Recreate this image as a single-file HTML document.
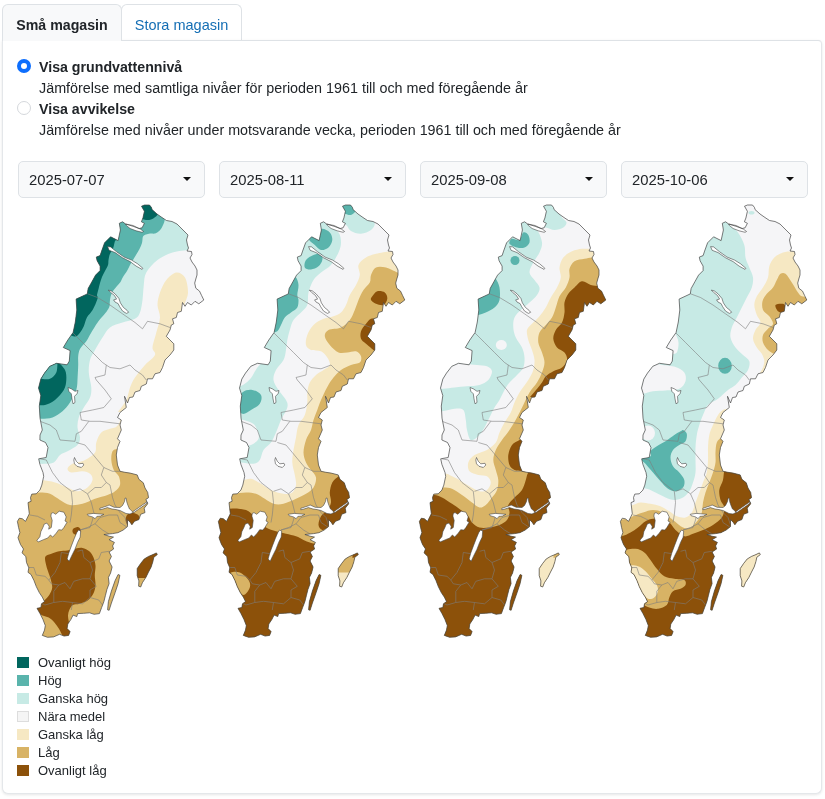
<!DOCTYPE html>
<html lang="sv"><head><meta charset="utf-8"><title>Grundvattennivåer</title>
<style>
*{box-sizing:border-box}
html,body{margin:0;padding:0;background:#fff}
body{width:825px;height:799px;position:relative;overflow:hidden;font-family:"Liberation Sans",sans-serif;color:#212529;font-size:14px}
.tab{position:absolute;top:4px;height:37px;border:1px solid #dee2e6;border-bottom:none;border-radius:6px 6px 0 0;font-size:14.2px;line-height:41px;text-align:center}
.t1{left:2px;width:120px;background:#f8f9fa;font-weight:700;color:#212529;z-index:2}
.t2{left:121px;width:121px;background:#fff;color:#146eb4;font-size:14.5px}
.panel{position:absolute;left:2px;top:40px;width:820px;height:754px;border:1px solid #e4e7ea;border-top-color:#dee2e6;border-radius:0 4px 6px 6px;background:#fff;box-shadow:0 1px 3px rgba(0,0,0,.10)}
.radio{position:absolute;left:17px;width:14px;height:14px;border-radius:50%}
.r1{top:59px;border:4px solid #0d6efd;background:#fff}
.r2{top:101px;border:1px solid #d5d8dc;background:#fff}
.lbl{position:absolute;left:39px;font-size:14.35px;white-space:nowrap;line-height:16px}
.b{font-weight:700;font-size:14.2px}
.sel{position:absolute;top:161px;width:187px;height:37px;border:1px solid #dee2e6;border-radius:5px;background:#f8f9fa;font-size:14.8px;line-height:37px;padding-left:10px}
.sel i{position:absolute;right:13px;top:15px;width:0;height:0;border-left:4px solid transparent;border-right:4px solid transparent;border-top:4px solid #111}
.lg{position:absolute;left:17px;width:12px;height:11px}
.lt{position:absolute;left:38px;font-size:13px;line-height:14px;white-space:nowrap}
svg{position:absolute;left:0;top:0}
</style></head><body>
<div class="tab t1">Små magasin</div>
<div class="tab t2">Stora magasin</div>
<div class="panel"></div>
<div class="radio r1"></div><div class="lbl b" style="top:59px">Visa grundvattennivå</div>
<div class="lbl" style="top:80px">Jämförelse med samtliga nivåer för perioden 1961 till och med föregående år</div>
<div class="radio r2"></div><div class="lbl b" style="top:101px">Visa avvikelse</div>
<div class="lbl" style="top:122px;font-size:14.3px">Jämförelse med nivåer under motsvarande vecka, perioden 1961 till och med föregående år</div>
<div class="sel" style="left:18px">2025-07-07<i></i></div>
<div class="sel" style="left:219px">2025-08-11<i></i></div>
<div class="sel" style="left:420px">2025-09-08<i></i></div>
<div class="sel" style="left:621px">2025-10-06<i></i></div>
<!--MAPS-->
<svg width="825" height="799" viewBox="0 0 825 799">
<defs><clipPath id="se"><path d="M141.5 206.2L144.5 205.0L149.5 205.0L151.5 207.5L152.0 209.5L157.0 214.0L162.0 217.5L166.5 220.5L172.0 221.5L177.0 224.0L181.0 228.0L185.0 232.0L188.0 235.0L186.5 240.0L187.5 245.0L188.5 248.0L187.0 251.0L191.5 251.5L192.0 254.5L190.0 258.0L192.0 262.0L195.0 266.0L197.0 270.0L197.0 275.0L195.8 279.0L194.7 283.1L195.8 288.2L199.5 291.1L201.6 295.5L203.8 300.0L198.8 303.8L195.0 301.3L191.3 305.0L187.5 302.5L185.0 306.3L182.5 302.5L181.3 311.3L177.5 312.5L176.3 317.5L172.5 318.8L173.8 323.8L171.3 325.0L170.0 330.0L166.3 336.3L170.0 340.0L173.8 343.8L173.8 350.0L170.0 355.0L165.0 360.0L162.5 367.5L160.0 372.5L155.0 373.8L152.5 378.8L147.5 378.8L146.3 384.0L141.3 386.3L140.0 390.5L135.0 392.0L133.0 397.0L129.5 397.5L127.5 403.0L124.5 396.3L126.3 407.5L120.0 412.5L117.5 417.5L121.3 420.0L120.0 425.0L121.3 430.0L117.5 438.8L120.0 441.3L117.5 447.5L116.3 455.0L117.5 465.0L120.0 471.3L124.9 472.3L130.1 473.1L137.2 474.9L138.9 479.3L143.3 482.8L145.0 488.0L147.7 492.4L148.5 497.7L145.9 499.4L147.7 503.8L144.2 508.2L145.0 512.6L140.7 514.3L138.9 519.6L134.5 521.3L131.9 524.8L130.1 522.2L127.5 519.6L127.5 526.6L123.1 530.1L117.9 532.7L112.6 533.6L103.9 534.5L109.1 536.2L113.5 537.1L109.1 539.7L114.4 542.4L112.6 545.9L113.6 549.0L109.1 552.0L111.4 556.5L109.1 561.0L112.1 567.0L110.6 573.0L108.4 577.5L109.1 583.6L106.9 589.6L105.4 595.6L103.9 601.6L101.6 607.6L99.4 613.6L94.1 614.3L89.6 612.8L83.6 613.3L77.6 613.6L76.8 616.6L73.1 615.1L70.8 619.6L67.8 624.1L67.1 628.6L70.1 631.6L68.6 635.4L64.1 636.1L59.6 634.3L53.6 636.9L47.5 637.3L42.3 635.4L44.5 630.1L45.3 625.6L43.0 619.6L40.0 613.6L37.0 608.3L40.8 607.6L41.5 603.8L44.5 601.6L42.3 597.1L39.3 592.6L36.3 586.6L34.0 580.6L31.0 574.5L28.0 572.3L28.8 567.8L26.5 562.5L25.8 556.5L22.0 552.8L23.5 549.0L20.5 544.5L18.8 540.0L18.0 537.6L19.9 532.6L18.6 527.6L17.4 521.4L19.3 518.2L22.4 518.8L25.5 521.4L29.3 513.8L28.0 502.6L31.1 501.3L30.5 497.6L31.8 494.1L36.2 493.8L39.9 490.1L41.8 485.1L43.7 476.3L43.0 472.5L39.9 464.4L38.7 458.8L46.2 457.5L48.0 447.5L45.5 442.5L39.9 440.0L40.0 435.0L42.3 430.0L40.0 418.1L39.3 406.1L40.8 395.6L38.5 388.1L40.8 379.1L44.5 373.1L49.8 366.3L56.5 363.3L67.1 364.8L69.3 361.1L70.1 350.6L63.3 347.5L67.8 340.0L73.1 332.5L75.3 322.0L76.8 310.0L76.1 299.1L87.3 293.9L88.1 288.6L91.8 281.9L95.6 275.1L100.1 270.6L100.1 266.1L97.1 260.8L96.3 257.1L100.1 255.6L101.6 251.1L104.6 242.8L110.6 236.8L118.1 240.6L120.4 230.0L119.3 223.3L122.6 221.8L125.6 224.0L133.1 226.3L139.1 228.5L142.1 227.8L144.4 223.3L141.4 221.8L142.9 218.0L144.4 211.3ZM118.1 574.5L119.9 575.3L118.1 583.6L115.1 592.6L111.4 603.1L109.1 610.3L107.6 609.8L108.4 601.6L111.4 591.1L115.1 580.6ZM137.2 568.6L140.7 563.4L144.2 559.0L148.5 556.4L152.9 554.6L156.4 552.9L157.3 554.6L153.8 557.3L152.9 561.6L151.2 566.9L148.5 572.1L145.9 577.4L142.4 582.7L140.7 587.0L138.6 586.2L138.9 580.9L137.2 575.6Z"/></clipPath></defs>
<g transform="translate(0 0)">
<g clip-path="url(#se)">
<rect x="10" y="200" width="200" height="445" fill="#f5f5f7"/>
<path fill="#c7eae5" d="M188.8 250.0C186.1 250.4 177.7 250.8 172.5 252.5C167.3 254.2 161.9 256.7 157.5 260.0C153.1 263.3 148.6 268.3 146.3 272.5C144.0 276.7 144.4 280.4 143.8 285.0C143.2 289.6 143.1 295.4 142.5 300.0C141.9 304.6 141.2 309.4 140.0 312.5C138.8 315.6 137.9 317.1 135.0 318.8C132.1 320.5 126.7 321.1 122.5 322.5C118.3 323.9 113.3 325.0 110.0 327.5C106.7 330.0 105.0 333.8 102.5 337.5C100.0 341.2 97.1 346.2 95.0 350.0C92.9 353.8 91.0 356.2 90.0 360.0C89.0 363.8 88.6 367.9 88.8 372.5C89.0 377.1 91.1 383.3 91.3 387.5C91.5 391.7 91.2 394.2 90.0 397.5C88.8 400.8 85.7 404.2 83.8 407.5C81.9 410.8 79.8 414.2 78.8 417.5C77.8 420.8 77.3 424.2 77.5 427.5C77.7 430.8 80.0 434.6 80.0 437.5C80.0 440.4 79.6 442.7 77.5 445.0C75.4 447.3 70.4 449.6 67.5 451.3C64.6 453.0 62.3 453.1 60.0 455.0C57.7 456.9 56.3 461.0 53.8 462.5C51.3 464.0 47.5 463.6 45.0 463.8C42.5 464.0 39.8 463.8 38.8 463.8L10.0 464.0L10.0 195.0L210.0 195.0L210.0 250.0Z"/>
<path fill="#5ab4ac" d="M165.0 210.0C164.9 211.8 165.1 217.7 164.6 220.5C164.1 223.3 163.0 225.2 162.1 227.0C161.2 228.8 160.3 229.9 159.1 231.0C157.9 232.1 156.6 233.1 155.1 233.5C153.6 233.9 151.5 233.3 150.0 233.5C148.5 233.7 147.2 234.0 146.0 234.5C144.8 235.0 143.7 235.1 143.0 236.5C142.3 237.9 142.6 240.9 142.0 243.0C141.4 245.1 140.5 247.0 139.5 249.0C138.5 251.0 137.1 253.2 136.0 255.0C134.9 256.8 134.0 258.3 133.0 260.0C132.0 261.7 131.0 263.2 130.0 265.0C129.0 266.8 128.2 269.0 127.0 271.0C125.8 273.0 124.1 275.2 123.0 277.0C121.9 278.8 121.5 280.5 120.5 282.0C119.5 283.5 118.2 284.5 117.0 286.0C115.8 287.5 114.1 289.2 113.0 291.0C111.9 292.8 111.0 295.2 110.5 297.0C110.0 298.8 110.0 300.4 109.8 302.0C109.6 303.6 110.0 304.8 109.5 306.3C109.0 307.8 108.0 309.6 107.0 311.0C106.0 312.4 105.4 313.1 103.8 315.0C102.2 316.9 99.7 319.6 97.6 322.5C95.5 325.4 93.2 329.5 91.3 332.6C89.4 335.7 88.2 338.6 86.3 341.3C84.4 344.0 81.4 346.3 80.1 348.8C78.8 351.3 78.5 353.6 78.2 356.3C77.9 359.0 78.3 361.6 78.2 365.1C78.1 368.7 77.9 373.5 77.6 377.6C77.3 381.8 77.6 385.9 76.3 390.0C75.0 394.1 72.3 398.9 70.0 402.5C67.7 406.1 65.4 408.8 62.5 411.3C59.6 413.8 56.0 416.2 52.5 417.5C49.0 418.8 45.0 418.6 41.3 418.8C37.5 419.1 31.9 419.0 30.0 419.0L10.0 419.0L10.0 195.0L165.0 195.0Z"/>
<path fill="#01665e" d="M138.0 219.0C138.7 219.0 140.7 218.8 142.0 219.0C143.3 219.2 144.5 219.9 146.0 220.0C147.5 220.1 149.3 220.1 151.0 219.5C152.7 218.9 154.7 217.6 156.0 216.5C157.3 215.4 158.5 213.6 159.0 213.0L165.0 200.0L130.0 200.0Z"/>
<path fill="#01665e" d="M116.3 240.3C116.1 240.4 115.5 239.9 115.0 241.0C114.5 242.1 114.1 245.3 113.5 247.0C112.9 248.7 112.2 249.7 111.5 251.0C110.8 252.3 110.0 253.5 109.5 255.0C109.0 256.5 108.8 258.3 108.5 260.0C108.2 261.7 108.6 263.2 108.0 265.0C107.4 266.8 106.0 269.0 105.0 271.0C104.0 273.0 102.8 275.0 102.0 277.0C101.2 279.0 100.6 281.0 100.0 283.0C99.4 285.0 99.0 287.0 98.5 289.0C98.0 291.0 97.2 293.4 97.0 295.0C96.8 296.6 98.2 296.3 97.5 298.8C96.8 301.3 94.4 306.9 92.6 310.0C90.8 313.1 88.4 314.8 86.9 317.5C85.4 320.2 84.9 323.8 83.8 326.3C82.7 328.8 81.3 330.9 80.1 332.6C78.8 334.3 77.7 335.8 76.3 336.3C74.9 336.8 72.6 335.8 71.9 335.7L60.0 331.0L60.0 230.0L116.0 230.0Z"/>
<path fill="#01665e" d="M58.0 362.0C59.2 363.3 63.6 367.0 65.0 370.0C66.4 373.0 66.5 376.7 66.3 380.0C66.1 383.3 65.7 386.7 63.8 390.0C61.9 393.3 58.1 397.5 55.0 400.0C51.9 402.5 47.8 404.2 45.0 405.0C42.2 405.8 39.2 405.0 38.0 405.0L30.0 405.0L30.0 362.0Z"/>
<path fill="#5ab4ac" d="M40.0 378.8C41.7 378.8 47.3 379.9 50.0 378.8C52.7 377.8 55.0 375.1 56.3 372.5C57.5 369.9 57.3 364.6 57.5 363.0L30.0 363.0L30.0 379.0Z"/>
<path fill="#f6e8c3" d="M184.5 304.0C185.1 302.1 187.9 296.9 188.0 292.5C188.1 288.1 186.9 280.8 185.0 277.5C183.1 274.2 179.4 272.1 176.3 272.5C173.2 272.9 169.0 276.7 166.3 280.0C163.6 283.3 161.5 288.3 160.0 292.5C158.5 296.7 157.5 300.8 157.5 305.0C157.5 309.2 160.2 312.9 160.0 317.5C159.8 322.1 157.6 327.5 156.3 332.5C155.1 337.5 152.7 343.8 152.5 347.5C152.3 351.2 156.2 352.1 155.0 355.0C153.8 357.9 148.3 361.2 145.0 365.0C141.7 368.8 137.5 373.8 135.0 377.5C132.5 381.2 131.4 383.8 130.0 387.5C128.6 391.2 128.3 395.9 126.3 400.0C124.3 404.1 119.4 410.0 118.0 412.0L140.0 412.0L150.0 392.0L172.0 370.0L182.0 350.0L180.0 335.0L190.0 315.0Z"/>
<path fill="#f6e8c3" d="M125.0 408.0C123.8 410.8 120.5 421.5 118.0 425.0C115.5 428.5 112.8 427.6 110.0 428.8C107.2 430.1 103.6 430.2 101.3 432.5C99.0 434.8 97.3 439.2 96.3 442.5C95.2 445.8 96.9 449.6 95.0 452.5C93.1 455.4 88.8 458.1 85.0 460.0C81.2 461.9 75.4 462.3 72.5 463.8C69.6 465.3 67.7 467.4 67.5 468.8C67.3 470.2 68.8 472.1 71.3 472.5C73.8 472.9 79.4 471.1 82.5 471.3C85.6 471.5 88.3 472.4 90.0 473.8C91.7 475.2 92.9 477.7 92.5 480.0C92.1 482.3 90.0 485.6 87.5 487.5C85.0 489.4 80.8 491.3 77.5 491.3C74.2 491.3 71.2 489.0 67.5 487.5C63.8 486.0 59.2 483.8 55.0 482.5C50.8 481.2 45.8 480.4 42.5 480.0C39.2 479.6 36.2 480.0 35.0 480.0L10.0 480.0L10.0 520.0L160.0 520.0L160.0 408.0Z"/>
<path fill="#d8b365" d="M25.0 494.0C26.1 494.0 28.8 494.1 31.3 493.8C33.8 493.6 36.9 492.5 40.0 492.5C43.1 492.5 46.7 492.6 50.0 493.8C53.3 495.1 56.7 498.1 60.0 500.0C63.3 501.9 66.2 504.4 70.0 505.0C73.8 505.6 78.3 504.8 82.5 503.8C86.7 502.8 90.8 500.3 95.0 498.8C99.2 497.3 104.2 496.2 107.5 495.0C110.8 493.8 112.9 493.0 115.0 491.3C117.1 489.6 119.4 487.5 120.0 485.0C120.6 482.5 119.8 478.8 118.8 476.3C117.8 473.8 115.0 472.7 113.8 470.0C112.5 467.3 111.5 463.1 111.3 460.0C111.1 456.9 111.5 453.2 112.5 451.3C113.5 449.4 115.4 449.4 117.5 448.8C119.6 448.2 123.8 448.1 125.0 448.0L170.0 448.0L170.0 645.0L10.0 645.0L10.0 494.0Z"/>
<path fill="#8c510a" d="M45.3 556.8C46.1 555.1 48.5 555.0 50.8 554.1C53.1 553.2 56.4 551.9 59.1 551.3C61.9 550.7 64.5 551.0 67.3 550.6C70.0 550.2 73.1 549.1 75.6 548.6C78.1 548.1 80.2 547.5 82.5 547.9C84.8 548.3 87.5 549.7 89.3 551.3C91.1 552.9 92.5 555.1 93.5 557.5C94.5 559.9 95.3 562.8 95.5 565.8C95.7 568.8 94.8 572.2 94.8 575.4C94.8 578.6 95.7 582.1 95.5 585.1C95.3 588.1 94.8 590.8 93.5 593.3C92.2 595.8 90.3 598.5 88.0 600.2C85.7 601.9 82.2 602.9 79.7 603.7C77.2 604.5 74.5 604.0 72.8 605.0C71.1 606.0 70.2 608.1 69.4 609.8C68.6 611.5 68.1 613.5 68.0 615.4C67.9 617.2 68.4 619.1 68.7 620.9C69.0 622.7 69.5 624.6 70.1 626.4C70.6 628.2 72.3 630.0 72.0 631.9C71.7 633.8 69.5 637.2 68.0 638.0C66.5 638.8 64.7 638.0 63.2 636.5C61.7 635.0 60.6 631.5 59.1 629.1C57.6 626.7 55.9 624.2 54.2 622.2C52.5 620.2 50.7 618.5 48.7 617.4C46.8 616.3 44.6 616.5 42.5 615.4C40.4 614.3 37.2 612.3 36.0 611.0C34.8 609.7 34.1 608.6 35.0 607.8C35.9 607.0 40.3 607.2 41.2 606.4C42.1 605.6 39.9 604.0 40.5 603.0C41.1 602.0 43.1 601.6 44.6 600.2C46.1 598.8 48.1 596.8 49.4 594.7C50.7 592.6 52.0 590.3 52.2 587.8C52.4 585.3 51.5 582.4 50.8 579.6C50.1 576.9 48.8 573.8 48.0 571.3C47.2 568.8 46.5 566.8 46.0 564.4C45.5 562.0 44.5 558.5 45.3 556.8Z"/>
<path fill="#8c510a" d="M127.0 515.0C128.2 513.5 131.0 512.8 133.0 513.0C135.0 513.2 138.2 514.3 139.0 516.0C139.8 517.7 139.3 521.0 138.0 523.0C136.7 525.0 133.0 528.2 131.0 528.0C129.0 527.8 126.7 524.2 126.0 522.0C125.3 519.8 125.8 516.5 127.0 515.0Z"/>
<path fill="#8c510a" d="M73.0 529.0C73.8 528.0 76.7 526.7 78.0 527.0C79.3 527.3 81.2 529.7 81.0 531.0C80.8 532.3 78.3 534.7 77.0 535.0C75.7 535.3 73.7 534.0 73.0 533.0C72.3 532.0 72.2 530.0 73.0 529.0Z"/>
<path fill="#8c510a" d="M130.0 545.0L160.0 545.0L160.0 578.0L130.0 578.0Z"/>
<path fill="none" stroke="#7d7d7d" stroke-width=".6" d="M87.5 293.8L97.5 297.5L110.0 305.0L122.5 313.8L135.0 322.5L142.5 328.8L147.5 321.3L160.0 323.8L170.0 327.5M72.5 332.5L82.5 342.5L92.5 352.5L102.5 362.5L110.0 367.5L120.0 368.8L130.0 365.0L135.0 370.0L142.5 375.0L146.3 380.0M106.3 365.0L105.0 375.0L95.0 377.5L96.3 380.0L105.0 390.0L111.3 398.8L103.8 407.5L92.5 410.0L80.0 412.5L81.3 420.0L90.0 421.3L100.0 421.3L120.0 423.8M40.0 421.3L50.0 425.0L56.3 430.0L60.0 440.0L75.0 441.3L76.3 433.8L81.3 431.3L88.8 421.3M40.0 458.8L46.3 460.0L52.5 472.5L60.0 482.5L71.3 491.3L72.5 502.5L71.3 515.0L70.0 522.5M76.3 442.5L85.0 445.0L91.3 452.5L97.5 460.0L103.8 467.5L101.3 475.0L106.3 482.5L110.0 485.0M103.8 467.5L112.5 471.3L120.0 471.3M72.5 491.3L80.0 488.8L87.5 493.8L95.0 487.5L101.3 487.5L106.3 482.5M87.5 493.8L91.3 502.5L93.8 512.5L92.5 520.0L90.0 527.5L80.0 530.0M110.0 485.0L112.5 497.5L115.0 505.0L120.0 512.5L125.0 517.5L127.5 525.0M30.0 515.0L37.5 516.3L45.0 520.0M70.0 553.8L61.3 552.5L60.0 562.5L55.0 572.5L48.8 580.0L45.0 576.3L36.3 575.0L33.8 567.5L27.5 567.5M48.8 580.0L51.3 583.8L58.8 585.0L53.8 591.3L53.8 602.5L45.0 605.0L40.0 602.5M53.8 602.5L62.5 601.3L72.5 602.5L71.3 610.0M72.5 602.5L82.5 603.8L90.0 597.5L98.8 600.0L102.5 605.0M58.8 585.0L65.0 582.5L70.0 588.8L73.8 581.3L82.5 578.8L90.0 578.8L96.3 586.3L90.0 590.0L90.0 597.5M77.5 551.3L82.5 550.0L83.8 557.5L90.0 562.5L92.5 570.0L90.0 578.8M90.0 562.5L98.8 558.8L101.3 552.5L108.8 551.3L112.5 555.0M80.0 530.0L87.5 527.5L95.0 523.8L102.5 530.0L108.8 533.8M95.0 523.8L100.0 517.5L108.8 515.0L117.5 515.0L120.0 522.5L127.5 527.5"/>
</g>
<path fill="#fff" stroke="#444" stroke-width=".6" d="M51.3 513.4L53.0 512.6L55.7 514.3L59.2 511.2L63.9 512.2L66.2 516.9L65.0 521.0L67.1 522.2L63.9 527.5L61.8 530.1L58.7 529.7L56.2 533.2L52.7 537.1L50.4 535.0L47.8 538.0L43.4 539.7L38.2 542.0L36.9 540.3L39.9 536.7L40.8 531.8L42.9 527.5L44.3 524.0L46.9 523.1L49.2 526.2L48.7 529.2L51.3 527.5L52.2 520.5L50.9 516.1ZM78.5 530.1L80.7 531.0L80.2 537.1L77.6 542.4L74.9 549.4L71.4 556.4L69.2 561.3L67.1 559.0L68.8 552.9L71.4 545.9L74.1 538.9L76.7 532.7ZM125.6 224.0L133.1 225.5L140.6 229.3L143.6 231.5L142.1 232.3L136.1 230.8L130.1 228.5L126.4 225.5ZM107.6 246.6L110.6 246.9L116.6 251.8L124.1 257.1L131.6 260.1L137.6 263.8L142.9 268.3L142.1 269.4L136.1 266.1L130.1 261.6L122.6 257.8L115.1 252.6L109.1 250.3ZM108.3 290.1L111.3 290.9L115.1 293.9L118.9 298.4L120.4 302.9L123.4 307.4L127.1 310.4L128.6 312.3L126.4 313.4L122.6 311.1L119.6 306.6L118.1 303.6L115.1 302.1L113.6 299.9L116.6 299.1L114.4 295.4L110.6 292.4ZM68.0 387.5L71.3 388.8L75.0 391.3L78.0 390.5L77.0 393.8L74.5 396.3L75.0 402.5L73.0 403.8L72.0 398.8L71.3 393.8L68.8 391.3ZM74.5 457.5L76.3 461.3L78.8 463.8L83.0 463.3L83.8 465.0L81.3 467.5L77.0 466.3L74.5 463.8L73.8 460.0ZM87.2 514.3L93.3 513.4L103.9 514.3L100.4 516.1L96.9 516.4L95.1 518.7L92.5 516.9L88.1 515.7ZM99.8 508.3L107.4 505.8L109.1 505.0L114.2 507.3L120.0 507.5L122.5 505.5L124.5 501.5L125.2 498.0L126.2 498.2L126.8 502.0L128.0 505.5L129.5 509.0L131.5 510.5L133.0 512.5L130.0 514.0L126.0 513.5L123.0 512.0L120.0 510.5L116.0 509.6L112.0 509.0L107.4 507.6L103.0 509.0L99.8 509.8ZM133.0 511.5L138.0 508.0L143.0 504.5L147.0 501.8L147.5 502.8L143.5 505.8L138.5 509.3L133.5 512.8Z"/>
<path fill="none" stroke="#444" stroke-width=".7" stroke-linejoin="round" d="M141.5 206.2L144.5 205.0L149.5 205.0L151.5 207.5L152.0 209.5L157.0 214.0L162.0 217.5L166.5 220.5L172.0 221.5L177.0 224.0L181.0 228.0L185.0 232.0L188.0 235.0L186.5 240.0L187.5 245.0L188.5 248.0L187.0 251.0L191.5 251.5L192.0 254.5L190.0 258.0L192.0 262.0L195.0 266.0L197.0 270.0L197.0 275.0L195.8 279.0L194.7 283.1L195.8 288.2L199.5 291.1L201.6 295.5L203.8 300.0L198.8 303.8L195.0 301.3L191.3 305.0L187.5 302.5L185.0 306.3L182.5 302.5L181.3 311.3L177.5 312.5L176.3 317.5L172.5 318.8L173.8 323.8L171.3 325.0L170.0 330.0L166.3 336.3L170.0 340.0L173.8 343.8L173.8 350.0L170.0 355.0L165.0 360.0L162.5 367.5L160.0 372.5L155.0 373.8L152.5 378.8L147.5 378.8L146.3 384.0L141.3 386.3L140.0 390.5L135.0 392.0L133.0 397.0L129.5 397.5L127.5 403.0L124.5 396.3L126.3 407.5L120.0 412.5L117.5 417.5L121.3 420.0L120.0 425.0L121.3 430.0L117.5 438.8L120.0 441.3L117.5 447.5L116.3 455.0L117.5 465.0L120.0 471.3L124.9 472.3L130.1 473.1L137.2 474.9L138.9 479.3L143.3 482.8L145.0 488.0L147.7 492.4L148.5 497.7L145.9 499.4L147.7 503.8L144.2 508.2L145.0 512.6L140.7 514.3L138.9 519.6L134.5 521.3L131.9 524.8L130.1 522.2L127.5 519.6L127.5 526.6L123.1 530.1L117.9 532.7L112.6 533.6L103.9 534.5L109.1 536.2L113.5 537.1L109.1 539.7L114.4 542.4L112.6 545.9L113.6 549.0L109.1 552.0L111.4 556.5L109.1 561.0L112.1 567.0L110.6 573.0L108.4 577.5L109.1 583.6L106.9 589.6L105.4 595.6L103.9 601.6L101.6 607.6L99.4 613.6L94.1 614.3L89.6 612.8L83.6 613.3L77.6 613.6L76.8 616.6L73.1 615.1L70.8 619.6L67.8 624.1L67.1 628.6L70.1 631.6L68.6 635.4L64.1 636.1L59.6 634.3L53.6 636.9L47.5 637.3L42.3 635.4L44.5 630.1L45.3 625.6L43.0 619.6L40.0 613.6L37.0 608.3L40.8 607.6L41.5 603.8L44.5 601.6L42.3 597.1L39.3 592.6L36.3 586.6L34.0 580.6L31.0 574.5L28.0 572.3L28.8 567.8L26.5 562.5L25.8 556.5L22.0 552.8L23.5 549.0L20.5 544.5L18.8 540.0L18.0 537.6L19.9 532.6L18.6 527.6L17.4 521.4L19.3 518.2L22.4 518.8L25.5 521.4L29.3 513.8L28.0 502.6L31.1 501.3L30.5 497.6L31.8 494.1L36.2 493.8L39.9 490.1L41.8 485.1L43.7 476.3L43.0 472.5L39.9 464.4L38.7 458.8L46.2 457.5L48.0 447.5L45.5 442.5L39.9 440.0L40.0 435.0L42.3 430.0L40.0 418.1L39.3 406.1L40.8 395.6L38.5 388.1L40.8 379.1L44.5 373.1L49.8 366.3L56.5 363.3L67.1 364.8L69.3 361.1L70.1 350.6L63.3 347.5L67.8 340.0L73.1 332.5L75.3 322.0L76.8 310.0L76.1 299.1L87.3 293.9L88.1 288.6L91.8 281.9L95.6 275.1L100.1 270.6L100.1 266.1L97.1 260.8L96.3 257.1L100.1 255.6L101.6 251.1L104.6 242.8L110.6 236.8L118.1 240.6L120.4 230.0L119.3 223.3L122.6 221.8L125.6 224.0L133.1 226.3L139.1 228.5L142.1 227.8L144.4 223.3L141.4 221.8L142.9 218.0L144.4 211.3ZM118.1 574.5L119.9 575.3L118.1 583.6L115.1 592.6L111.4 603.1L109.1 610.3L107.6 609.8L108.4 601.6L111.4 591.1L115.1 580.6ZM137.2 568.6L140.7 563.4L144.2 559.0L148.5 556.4L152.9 554.6L156.4 552.9L157.3 554.6L153.8 557.3L152.9 561.6L151.2 566.9L148.5 572.1L145.9 577.4L142.4 582.7L140.7 587.0L138.6 586.2L138.9 580.9L137.2 575.6Z"/>
</g>
<g transform="translate(201 0)">
<g clip-path="url(#se)">
<rect x="10" y="200" width="200" height="445" fill="#f5f5f7"/>
<path fill="#c7eae5" d="M140.0 226.0C140.8 225.8 143.3 224.2 145.0 225.0C146.7 225.8 147.5 229.5 150.0 231.0C152.5 232.5 156.7 234.0 160.0 233.8C163.3 233.6 167.7 231.7 170.0 230.0C172.3 228.3 173.8 225.8 173.8 223.8C173.8 221.8 170.6 219.0 170.0 218.0L170.0 200.0L135.0 200.0Z"/>
<path fill="#5ab4ac" d="M141.0 213.0C141.5 213.1 142.3 213.5 143.8 213.8C145.3 214.1 148.1 215.5 150.0 215.0C151.9 214.5 153.8 212.3 155.0 211.0C156.2 209.7 156.7 207.7 157.0 207.0L157.0 200.0L138.0 200.0Z"/>
<path fill="#c7eae5" d="M122.0 218.0C122.9 219.2 124.9 222.6 127.5 225.0C130.1 227.4 135.4 229.6 137.5 232.5C139.6 235.4 140.0 239.2 140.0 242.5C140.0 245.8 139.2 248.8 137.5 252.5C135.8 256.2 132.9 261.7 130.0 265.0C127.1 268.3 122.9 270.0 120.0 272.5C117.1 275.0 114.6 276.7 112.5 280.0C110.4 283.3 108.5 288.3 107.5 292.5C106.5 296.7 107.5 301.7 106.3 305.0C105.0 308.3 102.3 310.0 100.0 312.5C97.7 315.0 94.4 317.1 92.5 320.0C90.6 322.9 89.8 326.7 88.8 330.0C87.8 333.3 86.9 336.7 86.3 340.0C85.7 343.3 85.6 346.7 85.0 350.0C84.4 353.3 84.2 356.7 82.5 360.0C80.8 363.3 76.7 366.7 75.0 370.0C73.3 373.3 72.1 376.7 72.5 380.0C72.9 383.3 75.4 386.7 77.5 390.0C79.6 393.3 83.5 397.1 85.0 400.0C86.5 402.9 87.1 404.2 86.3 407.5C85.5 410.8 81.9 415.8 80.0 420.0C78.1 424.2 76.7 428.8 75.0 432.5C73.3 436.2 72.1 439.6 70.0 442.5C67.9 445.4 64.4 447.1 62.5 450.0C60.6 452.9 60.5 457.7 58.8 460.0C57.1 462.3 55.6 463.4 52.5 463.8C49.4 464.2 43.8 462.8 40.0 462.5C36.2 462.2 31.7 462.1 30.0 462.0L10.0 462.0L10.0 215.0Z"/>
<path fill="#f5f5f7" d="M62.0 362.0C61.0 363.0 58.0 365.3 56.0 368.0C54.0 370.7 52.3 375.2 50.0 378.0C47.7 380.8 44.7 383.3 42.0 385.0C39.3 386.7 35.3 387.5 34.0 388.0L30.0 360.0Z"/>
<path fill="#f5f5f7" d="M33.0 421.0C35.8 416.9 46.1 421.0 50.0 422.5C53.9 424.0 55.0 427.3 56.3 430.0C57.5 432.7 58.5 436.3 57.5 438.8C56.5 441.3 52.9 443.6 50.0 445.0C47.1 446.4 42.8 446.7 40.0 447.0C37.2 447.3 34.2 451.3 33.0 447.0C31.8 442.7 30.2 425.1 33.0 421.0Z"/>
<path fill="#5ab4ac" d="M121.3 228.8C123.6 228.9 127.1 230.6 128.8 232.5C130.5 234.4 131.5 237.5 131.3 240.0C131.1 242.5 129.4 245.8 127.5 247.5C125.6 249.2 122.3 250.4 120.0 250.0C117.7 249.6 115.8 246.9 113.8 245.0C111.8 243.1 107.8 241.0 108.0 238.8C108.2 236.6 112.8 233.7 115.0 232.0C117.2 230.3 119.0 228.7 121.3 228.8Z"/>
<path fill="#5ab4ac" d="M105.0 260.0C106.5 257.9 110.0 256.0 112.5 255.0C115.0 254.0 118.5 253.0 120.0 253.8C121.5 254.6 121.7 257.9 121.3 260.0C120.9 262.1 119.4 264.7 117.5 266.3C115.6 267.9 112.3 269.3 110.0 269.5C107.7 269.7 104.6 269.1 103.8 267.5C103.0 265.9 103.5 262.1 105.0 260.0Z"/>
<path fill="#5ab4ac" d="M90.0 277.0C90.8 277.1 93.8 276.2 95.0 277.5C96.2 278.8 97.3 282.1 97.5 285.0C97.7 287.9 96.3 292.5 96.3 295.0C96.3 297.5 97.5 297.9 97.5 300.0C97.5 302.1 97.5 305.4 96.3 307.5C95.0 309.6 92.1 310.8 90.0 312.5C87.9 314.2 85.5 315.4 83.8 317.5C82.1 319.6 81.2 322.7 80.0 325.0C78.8 327.3 78.0 330.0 76.3 331.3C74.6 332.6 71.0 332.7 70.0 333.0L60.0 333.0L60.0 277.0Z"/>
<path fill="#5ab4ac" d="M41.3 392.5C44.2 390.0 48.2 389.6 51.3 390.0C54.4 390.4 58.8 392.7 60.0 395.0C61.2 397.3 60.5 401.3 58.8 403.8C57.1 406.3 52.9 408.3 50.0 410.0C47.1 411.7 44.0 414.6 41.3 413.8C38.6 413.0 34.0 408.6 34.0 405.0C34.0 401.4 38.4 395.0 41.3 392.5Z"/>
<path fill="#f6e8c3" d="M192.0 251.0C191.5 251.1 191.6 250.8 188.8 251.3C186.0 251.8 179.0 252.8 175.0 253.8C171.0 254.8 167.9 255.6 165.0 257.5C162.1 259.4 158.5 262.1 157.5 265.0C156.5 267.9 159.2 271.7 158.8 275.0C158.4 278.3 156.7 281.7 155.0 285.0C153.3 288.3 150.5 291.7 148.8 295.0C147.1 298.3 146.5 302.1 145.0 305.0C143.5 307.9 142.1 310.6 140.0 312.5C137.9 314.4 135.4 315.2 132.5 316.3C129.6 317.4 125.8 317.4 122.5 318.8C119.2 320.2 115.2 322.3 112.5 325.0C109.8 327.7 107.5 331.7 106.3 335.0C105.0 338.3 104.4 342.5 105.0 345.0C105.6 347.5 107.5 348.9 110.0 350.0C112.5 351.1 117.3 350.1 120.0 351.3C122.7 352.6 124.8 355.2 126.3 357.5C127.8 359.8 129.4 362.9 128.8 365.0C128.2 367.1 124.8 368.3 122.5 370.0C120.2 371.7 117.3 372.9 115.0 375.0C112.7 377.1 110.2 379.6 108.8 382.5C107.3 385.4 106.7 389.2 106.3 392.5C105.9 395.8 106.7 398.8 106.3 402.5C105.9 406.2 105.3 411.2 103.8 415.0C102.3 418.8 99.0 421.2 97.5 425.0C96.0 428.8 95.8 433.3 95.0 437.5C94.2 441.7 93.1 445.8 92.5 450.0C91.9 454.2 91.1 458.3 91.3 462.5C91.5 466.7 93.2 471.2 93.8 475.0C94.4 478.8 95.4 482.1 95.0 485.0C94.6 487.9 93.4 491.0 91.3 492.5C89.2 494.0 86.0 494.2 82.5 493.8C79.0 493.4 73.8 491.7 70.0 490.0C66.2 488.3 63.3 485.7 60.0 483.8C56.7 481.9 52.9 479.4 50.0 478.8C47.1 478.2 45.8 479.6 42.5 480.0C39.2 480.4 32.1 480.8 30.0 481.0L10.0 481.0L10.0 645.0L210.0 645.0L210.0 251.0Z"/>
<path fill="#d8b365" d="M200.0 274.0C199.4 273.8 198.8 273.6 196.3 272.5C193.8 271.4 188.6 268.3 185.0 267.5C181.4 266.7 177.5 266.2 175.0 267.5C172.5 268.8 171.0 272.5 170.0 275.0C169.0 277.5 170.1 280.0 168.8 282.5C167.6 285.0 164.4 287.1 162.5 290.0C160.6 292.9 158.9 296.7 157.5 300.0C156.1 303.3 155.2 306.7 153.8 310.0C152.4 313.3 151.1 317.1 148.8 320.0C146.5 322.9 143.6 325.8 140.0 327.5C136.4 329.2 130.2 328.5 127.5 330.0C124.8 331.5 123.6 333.8 123.8 336.3C124.0 338.8 126.5 342.3 128.8 345.0C131.1 347.7 134.6 351.2 137.5 352.5C140.4 353.8 143.4 352.7 146.3 352.5C149.2 352.3 152.7 350.7 155.0 351.3C157.3 351.9 159.4 354.4 160.0 356.3C160.6 358.2 160.5 361.1 158.8 362.5C157.1 363.9 153.1 363.8 150.0 365.0C146.9 366.2 142.9 367.9 140.0 370.0C137.1 372.1 134.8 374.7 132.5 377.5C130.2 380.3 128.4 383.2 126.3 387.0C124.2 390.8 121.7 396.2 120.0 400.0C118.3 403.8 117.5 406.7 116.3 410.0C115.0 413.3 113.5 416.7 112.5 420.0C111.5 423.3 111.2 426.7 110.0 430.0C108.8 433.3 106.2 436.2 105.0 440.0C103.8 443.8 102.5 448.8 102.5 452.5C102.5 456.2 103.8 459.6 105.0 462.5C106.2 465.4 108.3 467.5 110.0 470.0C111.7 472.5 114.6 474.6 115.0 477.5C115.4 480.4 114.2 484.8 112.5 487.5C110.8 490.2 107.9 491.9 105.0 493.8C102.1 495.7 98.8 497.1 95.0 498.8C91.2 500.5 86.2 503.0 82.5 503.8C78.8 504.6 75.6 504.6 72.5 503.8C69.4 503.0 66.7 500.5 63.8 498.8C60.9 497.1 58.1 494.9 55.0 493.8C51.9 492.8 48.8 492.5 45.0 492.5C41.2 492.5 35.8 493.6 32.5 493.8C29.2 494.1 26.2 494.0 25.0 494.0L10.0 494.0L10.0 645.0L210.0 645.0L210.0 274.0Z"/>
<path fill="#8c510a" d="M171.3 296.3C172.4 294.9 174.2 291.9 176.3 291.3C178.4 290.7 182.1 291.2 183.8 292.5C185.5 293.8 186.5 296.7 186.3 298.8C186.1 300.9 184.4 304.2 182.5 305.0C180.6 305.8 177.1 304.6 175.0 303.8C172.9 303.0 170.6 301.2 170.0 300.0C169.4 298.8 170.2 297.8 171.3 296.3Z"/>
<path fill="#8c510a" d="M170.0 318.8C171.8 318.2 175.3 318.1 176.0 320.0C176.7 321.9 175.0 327.3 174.0 330.0C173.0 332.7 169.7 334.0 170.0 336.3C170.3 338.6 175.0 341.2 176.0 343.8C177.0 346.4 177.8 352.0 176.0 352.0C174.2 352.0 167.7 346.0 165.0 343.8C162.3 341.6 160.8 340.9 160.0 338.8C159.2 336.7 159.2 333.8 160.0 331.3C160.8 328.8 163.3 325.9 165.0 323.8C166.7 321.7 168.2 319.4 170.0 318.8Z"/>
<path fill="#8c510a" d="M140.0 474.0C139.6 474.4 138.9 474.9 137.5 476.3C136.1 477.7 132.8 479.8 131.3 482.5C129.9 485.2 129.0 489.2 128.8 492.5C128.6 495.8 130.4 499.6 130.0 502.5C129.6 505.4 128.0 507.7 126.3 510.0C124.6 512.3 121.5 513.8 120.0 516.3C118.5 518.8 117.3 522.7 117.5 525.0C117.7 527.3 119.6 529.6 121.3 530.0C123.0 530.4 125.2 528.2 127.5 527.5C129.8 526.8 133.8 526.2 135.0 526.0L155.0 526.0L155.0 474.0Z"/>
<path fill="#8c510a" d="M20.0 508.8C21.5 508.8 25.9 508.8 28.8 508.8C31.7 508.8 34.4 508.4 37.5 508.8C40.6 509.2 44.4 509.4 47.5 511.3C50.6 513.2 53.4 517.3 56.3 520.0C59.2 522.7 61.9 525.6 65.0 527.5C68.1 529.4 71.7 530.2 75.0 531.3C78.3 532.3 81.7 533.0 85.0 533.8C88.3 534.6 92.1 535.3 95.0 536.3C97.9 537.3 100.2 539.0 102.5 540.0C104.8 541.0 106.9 541.9 108.8 542.5C110.7 543.1 111.9 543.5 113.8 543.8C115.7 544.0 119.0 544.0 120.0 544.0L125.0 544.0L125.0 645.0L10.0 645.0L10.0 509.0Z"/>
<path fill="#d8b365" d="M30.0 572.5C31.8 571.5 35.9 571.2 38.8 572.5C41.7 573.8 45.8 577.5 47.5 580.0C49.2 582.5 49.6 585.0 48.8 587.5C48.0 590.0 44.8 595.0 42.5 595.0C40.2 595.0 37.4 590.2 35.0 587.5C32.6 584.8 28.8 581.3 28.0 578.8C27.2 576.3 28.2 573.5 30.0 572.5Z"/>
<path fill="#d8b365" d="M130.0 545.0L160.0 545.0L160.0 572.5L130.0 572.5Z"/>
<path fill="#f6e8c3" d="M130.0 572.5L160.0 572.5L160.0 590.0L130.0 590.0Z"/>
<path fill="#8c510a" d="M151.5 551.0L158.0 551.0L158.0 556.0L151.5 558.0Z"/>
<path fill="none" stroke="#7d7d7d" stroke-width=".6" d="M87.5 293.8L97.5 297.5L110.0 305.0L122.5 313.8L135.0 322.5L142.5 328.8L147.5 321.3L160.0 323.8L170.0 327.5M72.5 332.5L82.5 342.5L92.5 352.5L102.5 362.5L110.0 367.5L120.0 368.8L130.0 365.0L135.0 370.0L142.5 375.0L146.3 380.0M106.3 365.0L105.0 375.0L95.0 377.5L96.3 380.0L105.0 390.0L111.3 398.8L103.8 407.5L92.5 410.0L80.0 412.5L81.3 420.0L90.0 421.3L100.0 421.3L120.0 423.8M40.0 421.3L50.0 425.0L56.3 430.0L60.0 440.0L75.0 441.3L76.3 433.8L81.3 431.3L88.8 421.3M40.0 458.8L46.3 460.0L52.5 472.5L60.0 482.5L71.3 491.3L72.5 502.5L71.3 515.0L70.0 522.5M76.3 442.5L85.0 445.0L91.3 452.5L97.5 460.0L103.8 467.5L101.3 475.0L106.3 482.5L110.0 485.0M103.8 467.5L112.5 471.3L120.0 471.3M72.5 491.3L80.0 488.8L87.5 493.8L95.0 487.5L101.3 487.5L106.3 482.5M87.5 493.8L91.3 502.5L93.8 512.5L92.5 520.0L90.0 527.5L80.0 530.0M110.0 485.0L112.5 497.5L115.0 505.0L120.0 512.5L125.0 517.5L127.5 525.0M30.0 515.0L37.5 516.3L45.0 520.0M70.0 553.8L61.3 552.5L60.0 562.5L55.0 572.5L48.8 580.0L45.0 576.3L36.3 575.0L33.8 567.5L27.5 567.5M48.8 580.0L51.3 583.8L58.8 585.0L53.8 591.3L53.8 602.5L45.0 605.0L40.0 602.5M53.8 602.5L62.5 601.3L72.5 602.5L71.3 610.0M72.5 602.5L82.5 603.8L90.0 597.5L98.8 600.0L102.5 605.0M58.8 585.0L65.0 582.5L70.0 588.8L73.8 581.3L82.5 578.8L90.0 578.8L96.3 586.3L90.0 590.0L90.0 597.5M77.5 551.3L82.5 550.0L83.8 557.5L90.0 562.5L92.5 570.0L90.0 578.8M90.0 562.5L98.8 558.8L101.3 552.5L108.8 551.3L112.5 555.0M80.0 530.0L87.5 527.5L95.0 523.8L102.5 530.0L108.8 533.8M95.0 523.8L100.0 517.5L108.8 515.0L117.5 515.0L120.0 522.5L127.5 527.5"/>
</g>
<path fill="#fff" stroke="#444" stroke-width=".6" d="M51.3 513.4L53.0 512.6L55.7 514.3L59.2 511.2L63.9 512.2L66.2 516.9L65.0 521.0L67.1 522.2L63.9 527.5L61.8 530.1L58.7 529.7L56.2 533.2L52.7 537.1L50.4 535.0L47.8 538.0L43.4 539.7L38.2 542.0L36.9 540.3L39.9 536.7L40.8 531.8L42.9 527.5L44.3 524.0L46.9 523.1L49.2 526.2L48.7 529.2L51.3 527.5L52.2 520.5L50.9 516.1ZM78.5 530.1L80.7 531.0L80.2 537.1L77.6 542.4L74.9 549.4L71.4 556.4L69.2 561.3L67.1 559.0L68.8 552.9L71.4 545.9L74.1 538.9L76.7 532.7ZM125.6 224.0L133.1 225.5L140.6 229.3L143.6 231.5L142.1 232.3L136.1 230.8L130.1 228.5L126.4 225.5ZM107.6 246.6L110.6 246.9L116.6 251.8L124.1 257.1L131.6 260.1L137.6 263.8L142.9 268.3L142.1 269.4L136.1 266.1L130.1 261.6L122.6 257.8L115.1 252.6L109.1 250.3ZM108.3 290.1L111.3 290.9L115.1 293.9L118.9 298.4L120.4 302.9L123.4 307.4L127.1 310.4L128.6 312.3L126.4 313.4L122.6 311.1L119.6 306.6L118.1 303.6L115.1 302.1L113.6 299.9L116.6 299.1L114.4 295.4L110.6 292.4ZM68.0 387.5L71.3 388.8L75.0 391.3L78.0 390.5L77.0 393.8L74.5 396.3L75.0 402.5L73.0 403.8L72.0 398.8L71.3 393.8L68.8 391.3ZM74.5 457.5L76.3 461.3L78.8 463.8L83.0 463.3L83.8 465.0L81.3 467.5L77.0 466.3L74.5 463.8L73.8 460.0ZM87.2 514.3L93.3 513.4L103.9 514.3L100.4 516.1L96.9 516.4L95.1 518.7L92.5 516.9L88.1 515.7ZM99.8 508.3L107.4 505.8L109.1 505.0L114.2 507.3L120.0 507.5L122.5 505.5L124.5 501.5L125.2 498.0L126.2 498.2L126.8 502.0L128.0 505.5L129.5 509.0L131.5 510.5L133.0 512.5L130.0 514.0L126.0 513.5L123.0 512.0L120.0 510.5L116.0 509.6L112.0 509.0L107.4 507.6L103.0 509.0L99.8 509.8ZM133.0 511.5L138.0 508.0L143.0 504.5L147.0 501.8L147.5 502.8L143.5 505.8L138.5 509.3L133.5 512.8Z"/>
<path fill="none" stroke="#444" stroke-width=".7" stroke-linejoin="round" d="M141.5 206.2L144.5 205.0L149.5 205.0L151.5 207.5L152.0 209.5L157.0 214.0L162.0 217.5L166.5 220.5L172.0 221.5L177.0 224.0L181.0 228.0L185.0 232.0L188.0 235.0L186.5 240.0L187.5 245.0L188.5 248.0L187.0 251.0L191.5 251.5L192.0 254.5L190.0 258.0L192.0 262.0L195.0 266.0L197.0 270.0L197.0 275.0L195.8 279.0L194.7 283.1L195.8 288.2L199.5 291.1L201.6 295.5L203.8 300.0L198.8 303.8L195.0 301.3L191.3 305.0L187.5 302.5L185.0 306.3L182.5 302.5L181.3 311.3L177.5 312.5L176.3 317.5L172.5 318.8L173.8 323.8L171.3 325.0L170.0 330.0L166.3 336.3L170.0 340.0L173.8 343.8L173.8 350.0L170.0 355.0L165.0 360.0L162.5 367.5L160.0 372.5L155.0 373.8L152.5 378.8L147.5 378.8L146.3 384.0L141.3 386.3L140.0 390.5L135.0 392.0L133.0 397.0L129.5 397.5L127.5 403.0L124.5 396.3L126.3 407.5L120.0 412.5L117.5 417.5L121.3 420.0L120.0 425.0L121.3 430.0L117.5 438.8L120.0 441.3L117.5 447.5L116.3 455.0L117.5 465.0L120.0 471.3L124.9 472.3L130.1 473.1L137.2 474.9L138.9 479.3L143.3 482.8L145.0 488.0L147.7 492.4L148.5 497.7L145.9 499.4L147.7 503.8L144.2 508.2L145.0 512.6L140.7 514.3L138.9 519.6L134.5 521.3L131.9 524.8L130.1 522.2L127.5 519.6L127.5 526.6L123.1 530.1L117.9 532.7L112.6 533.6L103.9 534.5L109.1 536.2L113.5 537.1L109.1 539.7L114.4 542.4L112.6 545.9L113.6 549.0L109.1 552.0L111.4 556.5L109.1 561.0L112.1 567.0L110.6 573.0L108.4 577.5L109.1 583.6L106.9 589.6L105.4 595.6L103.9 601.6L101.6 607.6L99.4 613.6L94.1 614.3L89.6 612.8L83.6 613.3L77.6 613.6L76.8 616.6L73.1 615.1L70.8 619.6L67.8 624.1L67.1 628.6L70.1 631.6L68.6 635.4L64.1 636.1L59.6 634.3L53.6 636.9L47.5 637.3L42.3 635.4L44.5 630.1L45.3 625.6L43.0 619.6L40.0 613.6L37.0 608.3L40.8 607.6L41.5 603.8L44.5 601.6L42.3 597.1L39.3 592.6L36.3 586.6L34.0 580.6L31.0 574.5L28.0 572.3L28.8 567.8L26.5 562.5L25.8 556.5L22.0 552.8L23.5 549.0L20.5 544.5L18.8 540.0L18.0 537.6L19.9 532.6L18.6 527.6L17.4 521.4L19.3 518.2L22.4 518.8L25.5 521.4L29.3 513.8L28.0 502.6L31.1 501.3L30.5 497.6L31.8 494.1L36.2 493.8L39.9 490.1L41.8 485.1L43.7 476.3L43.0 472.5L39.9 464.4L38.7 458.8L46.2 457.5L48.0 447.5L45.5 442.5L39.9 440.0L40.0 435.0L42.3 430.0L40.0 418.1L39.3 406.1L40.8 395.6L38.5 388.1L40.8 379.1L44.5 373.1L49.8 366.3L56.5 363.3L67.1 364.8L69.3 361.1L70.1 350.6L63.3 347.5L67.8 340.0L73.1 332.5L75.3 322.0L76.8 310.0L76.1 299.1L87.3 293.9L88.1 288.6L91.8 281.9L95.6 275.1L100.1 270.6L100.1 266.1L97.1 260.8L96.3 257.1L100.1 255.6L101.6 251.1L104.6 242.8L110.6 236.8L118.1 240.6L120.4 230.0L119.3 223.3L122.6 221.8L125.6 224.0L133.1 226.3L139.1 228.5L142.1 227.8L144.4 223.3L141.4 221.8L142.9 218.0L144.4 211.3ZM118.1 574.5L119.9 575.3L118.1 583.6L115.1 592.6L111.4 603.1L109.1 610.3L107.6 609.8L108.4 601.6L111.4 591.1L115.1 580.6ZM137.2 568.6L140.7 563.4L144.2 559.0L148.5 556.4L152.9 554.6L156.4 552.9L157.3 554.6L153.8 557.3L152.9 561.6L151.2 566.9L148.5 572.1L145.9 577.4L142.4 582.7L140.7 587.0L138.6 586.2L138.9 580.9L137.2 575.6Z"/>
</g>
<g transform="translate(402 0)">
<g clip-path="url(#se)">
<rect x="10" y="200" width="200" height="445" fill="#f5f5f7"/>
<path fill="#c7eae5" d="M141.0 228.0C141.5 227.9 141.9 227.2 143.8 227.5C145.7 227.8 149.6 230.0 152.5 230.0C155.4 230.0 159.3 228.8 161.3 227.5C163.3 226.2 164.7 224.2 164.5 222.5C164.3 220.8 161.1 219.1 160.0 217.5C158.9 215.9 158.3 213.8 158.0 213.0L158.0 200.0L135.0 200.0Z"/>
<path fill="#c7eae5" d="M120.0 216.0C120.8 217.3 122.5 221.5 125.0 223.8C127.5 226.1 132.5 226.9 135.0 230.0C137.5 233.1 139.6 238.8 140.0 242.5C140.4 246.2 138.9 249.2 137.5 252.5C136.1 255.8 133.0 259.2 131.3 262.5C129.6 265.8 127.3 269.6 127.5 272.5C127.7 275.4 130.8 277.5 132.5 280.0C134.2 282.5 137.1 285.0 137.5 287.5C137.9 290.0 136.7 292.5 135.0 295.0C133.3 297.5 130.2 300.0 127.5 302.5C124.8 305.0 121.3 307.5 118.8 310.0C116.3 312.5 113.8 314.6 112.5 317.5C111.2 320.4 111.1 324.2 111.3 327.5C111.5 330.8 112.3 334.2 113.8 337.5C115.2 340.8 118.5 344.2 120.0 347.5C121.5 350.8 122.3 354.2 122.5 357.5C122.7 360.8 122.5 364.6 121.3 367.5C120.0 370.4 117.3 372.5 115.0 375.0C112.7 377.5 109.6 380.0 107.5 382.5C105.4 385.0 104.2 387.1 102.5 390.0C100.8 392.9 99.2 397.1 97.5 400.0C95.8 402.9 94.2 404.6 92.5 407.5C90.8 410.4 89.2 414.2 87.5 417.5C85.8 420.8 84.4 424.4 82.5 427.5C80.6 430.6 78.6 434.2 76.3 436.3C74.0 438.4 70.7 441.1 68.8 440.0C66.9 438.9 65.8 433.3 65.0 430.0C64.2 426.7 64.4 423.3 63.8 420.0C63.2 416.7 63.2 411.9 61.3 410.0C59.4 408.1 56.0 408.6 52.5 408.8C49.0 409.0 43.8 410.8 40.0 411.3C36.2 411.8 31.7 411.9 30.0 412.0L10.0 412.0L10.0 216.0Z"/>
<path fill="#f5f5f7" d="M55.0 362.0C56.5 362.3 60.5 363.3 63.8 363.8C67.1 364.3 71.5 364.6 75.0 365.0C78.5 365.4 82.5 365.2 85.0 366.3C87.5 367.4 89.8 369.0 90.0 371.3C90.2 373.6 88.4 377.7 86.3 380.0C84.2 382.3 81.0 383.9 77.5 385.0C74.0 386.1 69.2 385.9 65.0 386.3C60.8 386.7 56.5 387.1 52.5 387.5C48.5 387.9 45.0 388.6 41.3 388.8C37.5 389.1 31.9 389.0 30.0 389.0L30.0 362.0Z"/>
<path fill="#f5f5f7" d="M93.8 345.0 a5.5 5.0 0 1 0 11.0 0a5.5 5.0 0 1 0 -11.0 0Z"/>
<path fill="#5ab4ac" d="M110.0 238.8C111.7 238.2 115.6 241.1 117.5 240.0C119.4 238.9 119.8 233.3 121.3 232.5C122.8 231.7 125.3 233.3 126.3 235.0C127.3 236.7 128.1 240.4 127.5 242.5C126.9 244.6 124.6 246.7 122.5 247.5C120.4 248.3 117.5 248.1 115.0 247.5C112.5 246.9 108.3 245.2 107.5 243.8C106.7 242.4 108.3 239.4 110.0 238.8Z"/>
<path fill="#5ab4ac" d="M108.5 260.5 a4.5 4.5 0 1 0 9.0 0a4.5 4.5 0 1 0 -9.0 0Z"/>
<path fill="#5ab4ac" d="M90.0 276.0C90.6 276.5 92.5 276.9 93.8 278.8C95.0 280.7 96.9 284.0 97.5 287.5C98.1 291.0 98.3 296.7 97.5 300.0C96.7 303.3 94.8 305.4 92.5 307.5C90.2 309.6 86.5 311.2 83.8 312.5C81.1 313.8 78.6 314.4 76.3 315.0C74.0 315.6 71.0 315.8 70.0 316.0L60.0 316.0L60.0 276.0Z"/>
<path fill="#f6e8c3" d="M195.0 248.0C194.0 248.1 191.3 248.7 188.8 248.8C186.3 248.9 183.1 248.4 180.0 248.8C176.9 249.2 173.1 249.9 170.0 251.3C166.9 252.8 163.4 254.8 161.3 257.5C159.2 260.2 157.9 264.2 157.5 267.5C157.1 270.8 159.2 274.2 158.8 277.5C158.4 280.8 156.7 284.2 155.0 287.5C153.3 290.8 150.7 294.2 148.8 297.5C146.9 300.8 145.7 304.4 143.8 307.5C141.9 310.6 139.8 313.6 137.5 316.3C135.2 319.0 132.1 321.5 130.0 323.8C127.9 326.1 125.6 327.3 125.0 330.0C124.4 332.7 125.5 336.7 126.3 340.0C127.1 343.3 129.0 346.7 130.0 350.0C131.0 353.3 132.3 356.7 132.5 360.0C132.7 363.3 132.3 366.7 131.3 370.0C130.3 373.3 128.6 376.2 126.3 380.0C124.0 383.8 119.8 388.8 117.5 392.5C115.2 396.2 114.0 399.2 112.5 402.5C111.0 405.8 110.5 409.2 108.8 412.5C107.1 415.8 104.4 419.2 102.5 422.5C100.6 425.8 99.0 429.2 97.5 432.5C96.0 435.8 95.9 439.6 93.8 442.5C91.7 445.4 88.5 447.9 85.0 450.0C81.5 452.1 75.6 452.9 72.5 455.0C69.4 457.1 67.1 459.8 66.3 462.5C65.5 465.2 65.8 469.2 67.5 471.3C69.2 473.4 73.4 474.2 76.3 475.0C79.2 475.8 82.9 475.1 85.0 476.3C87.1 477.6 88.8 480.2 88.8 482.5C88.8 484.8 86.9 488.5 85.0 490.0C83.1 491.5 80.4 491.9 77.5 491.3C74.6 490.7 70.8 488.2 67.5 486.3C64.2 484.4 60.8 481.9 57.5 480.0C54.2 478.1 49.8 476.0 47.5 475.0C45.2 474.0 46.7 474.0 43.8 473.8C40.9 473.6 32.3 474.0 30.0 474.0L10.0 474.0L10.0 645.0L210.0 645.0L210.0 248.0Z"/>
<path fill="#d8b365" d="M200.0 257.0C198.3 257.1 192.9 257.2 190.0 257.5C187.1 257.8 185.4 258.2 182.5 258.8C179.6 259.4 175.0 259.6 172.5 261.3C170.0 263.0 168.3 266.1 167.5 268.8C166.7 271.5 168.1 274.4 167.5 277.5C166.9 280.6 165.5 284.4 163.8 287.5C162.1 290.6 159.2 293.0 157.5 296.3C155.8 299.6 155.1 304.0 153.8 307.5C152.6 311.0 151.7 314.6 150.0 317.5C148.3 320.4 145.9 322.5 143.8 325.0C141.7 327.5 138.8 329.6 137.5 332.5C136.2 335.4 135.9 339.2 136.3 342.5C136.7 345.8 139.0 349.2 140.0 352.5C141.0 355.8 142.5 359.2 142.5 362.5C142.5 365.8 141.2 369.2 140.0 372.5C138.8 375.8 137.1 379.2 135.0 382.5C132.9 385.8 129.8 388.8 127.5 392.5C125.2 396.2 123.4 400.8 121.3 405.0C119.2 409.2 117.3 413.3 115.0 417.5C112.7 421.7 110.0 426.2 107.5 430.0C105.0 433.8 102.3 436.7 100.0 440.0C97.7 443.3 95.2 446.7 93.8 450.0C92.3 453.3 91.3 456.7 91.3 460.0C91.3 463.3 93.0 466.7 93.8 470.0C94.6 473.3 96.1 476.7 96.3 480.0C96.5 483.3 96.0 487.1 95.0 490.0C94.0 492.9 91.9 495.0 90.0 497.5C88.1 500.0 85.9 503.3 83.8 505.0C81.7 506.7 79.8 507.9 77.5 507.5C75.2 507.1 72.9 504.6 70.0 502.5C67.1 500.4 63.3 497.3 60.0 495.0C56.7 492.7 53.1 490.1 50.0 488.8C46.9 487.6 44.6 487.6 41.3 487.5C38.0 487.4 31.9 487.9 30.0 488.0L10.0 488.0L10.0 645.0L210.0 645.0L210.0 257.0Z"/>
<path fill="#8c510a" d="M205.0 287.0C203.8 286.9 200.2 286.6 197.5 286.3C194.8 286.0 191.7 285.8 188.8 285.0C185.9 284.2 182.7 280.9 180.0 281.3C177.3 281.7 174.8 285.4 172.5 287.5C170.2 289.6 168.0 291.3 166.3 293.8C164.6 296.3 163.1 299.4 162.5 302.5C161.9 305.6 162.9 309.2 162.5 312.5C162.1 315.8 161.4 319.6 160.0 322.5C158.6 325.4 155.2 327.3 153.8 330.0C152.4 332.7 151.1 335.9 151.3 338.8C151.5 341.7 153.1 345.2 155.0 347.5C156.9 349.8 160.8 350.4 162.5 352.5C164.2 354.6 165.4 357.5 165.0 360.0C164.6 362.5 162.3 365.6 160.0 367.5C157.7 369.4 154.0 369.8 151.3 371.3C148.6 372.8 145.7 374.4 143.8 376.3C141.9 378.2 141.6 380.2 140.0 382.5C138.4 384.8 136.0 387.6 134.0 390.0C132.0 392.4 129.0 395.8 128.0 397.0L150.0 397.0L210.0 340.0Z"/>
<path fill="#8c510a" d="M122.0 437.0C121.2 437.5 119.5 438.7 117.5 440.0C115.5 441.3 111.9 442.5 110.0 445.0C108.1 447.5 106.7 451.7 106.3 455.0C105.9 458.3 106.5 462.5 107.5 465.0C108.5 467.5 110.4 468.9 112.5 470.0C114.6 471.1 117.8 471.0 120.0 471.3C122.2 471.6 125.0 471.9 126.0 472.0L135.0 472.0L135.0 437.0Z"/>
<path fill="#8c510a" d="M25.0 495.0C26.2 495.0 30.0 494.6 32.5 495.0C35.0 495.4 37.1 496.0 40.0 497.5C42.9 499.0 46.9 501.7 50.0 503.8C53.1 505.9 56.1 507.9 58.8 510.0C61.5 512.1 64.4 514.2 66.3 516.3C68.2 518.4 68.1 520.6 70.0 522.5C71.9 524.4 74.6 526.7 77.5 527.5C80.4 528.3 84.2 527.9 87.5 527.5C90.8 527.1 94.6 526.2 97.5 525.0C100.4 523.8 103.3 522.1 105.0 520.0C106.7 517.9 107.3 515.0 107.5 512.5C107.7 510.0 105.5 507.5 106.3 505.0C107.1 502.5 110.2 500.0 112.5 497.5C114.8 495.0 118.1 492.9 120.0 490.0C121.9 487.1 122.8 482.9 123.8 480.0C124.8 477.1 124.9 474.3 126.3 472.5C127.7 470.7 131.1 469.6 132.0 469.0L160.0 469.0L160.0 545.0L125.0 545.0L125.0 645.0L10.0 645.0L10.0 495.0Z"/>
<path fill="#f6e8c3" d="M130.0 545.0L160.0 545.0L160.0 590.0L130.0 590.0Z"/>
<path fill="#d8b365" d="M151.5 551.0L158.0 551.0L158.0 556.0L151.5 558.0Z"/>
<path fill="none" stroke="#7d7d7d" stroke-width=".6" d="M87.5 293.8L97.5 297.5L110.0 305.0L122.5 313.8L135.0 322.5L142.5 328.8L147.5 321.3L160.0 323.8L170.0 327.5M72.5 332.5L82.5 342.5L92.5 352.5L102.5 362.5L110.0 367.5L120.0 368.8L130.0 365.0L135.0 370.0L142.5 375.0L146.3 380.0M106.3 365.0L105.0 375.0L95.0 377.5L96.3 380.0L105.0 390.0L111.3 398.8L103.8 407.5L92.5 410.0L80.0 412.5L81.3 420.0L90.0 421.3L100.0 421.3L120.0 423.8M40.0 421.3L50.0 425.0L56.3 430.0L60.0 440.0L75.0 441.3L76.3 433.8L81.3 431.3L88.8 421.3M40.0 458.8L46.3 460.0L52.5 472.5L60.0 482.5L71.3 491.3L72.5 502.5L71.3 515.0L70.0 522.5M76.3 442.5L85.0 445.0L91.3 452.5L97.5 460.0L103.8 467.5L101.3 475.0L106.3 482.5L110.0 485.0M103.8 467.5L112.5 471.3L120.0 471.3M72.5 491.3L80.0 488.8L87.5 493.8L95.0 487.5L101.3 487.5L106.3 482.5M87.5 493.8L91.3 502.5L93.8 512.5L92.5 520.0L90.0 527.5L80.0 530.0M110.0 485.0L112.5 497.5L115.0 505.0L120.0 512.5L125.0 517.5L127.5 525.0M30.0 515.0L37.5 516.3L45.0 520.0M70.0 553.8L61.3 552.5L60.0 562.5L55.0 572.5L48.8 580.0L45.0 576.3L36.3 575.0L33.8 567.5L27.5 567.5M48.8 580.0L51.3 583.8L58.8 585.0L53.8 591.3L53.8 602.5L45.0 605.0L40.0 602.5M53.8 602.5L62.5 601.3L72.5 602.5L71.3 610.0M72.5 602.5L82.5 603.8L90.0 597.5L98.8 600.0L102.5 605.0M58.8 585.0L65.0 582.5L70.0 588.8L73.8 581.3L82.5 578.8L90.0 578.8L96.3 586.3L90.0 590.0L90.0 597.5M77.5 551.3L82.5 550.0L83.8 557.5L90.0 562.5L92.5 570.0L90.0 578.8M90.0 562.5L98.8 558.8L101.3 552.5L108.8 551.3L112.5 555.0M80.0 530.0L87.5 527.5L95.0 523.8L102.5 530.0L108.8 533.8M95.0 523.8L100.0 517.5L108.8 515.0L117.5 515.0L120.0 522.5L127.5 527.5"/>
</g>
<path fill="#fff" stroke="#444" stroke-width=".6" d="M51.3 513.4L53.0 512.6L55.7 514.3L59.2 511.2L63.9 512.2L66.2 516.9L65.0 521.0L67.1 522.2L63.9 527.5L61.8 530.1L58.7 529.7L56.2 533.2L52.7 537.1L50.4 535.0L47.8 538.0L43.4 539.7L38.2 542.0L36.9 540.3L39.9 536.7L40.8 531.8L42.9 527.5L44.3 524.0L46.9 523.1L49.2 526.2L48.7 529.2L51.3 527.5L52.2 520.5L50.9 516.1ZM78.5 530.1L80.7 531.0L80.2 537.1L77.6 542.4L74.9 549.4L71.4 556.4L69.2 561.3L67.1 559.0L68.8 552.9L71.4 545.9L74.1 538.9L76.7 532.7ZM125.6 224.0L133.1 225.5L140.6 229.3L143.6 231.5L142.1 232.3L136.1 230.8L130.1 228.5L126.4 225.5ZM107.6 246.6L110.6 246.9L116.6 251.8L124.1 257.1L131.6 260.1L137.6 263.8L142.9 268.3L142.1 269.4L136.1 266.1L130.1 261.6L122.6 257.8L115.1 252.6L109.1 250.3ZM108.3 290.1L111.3 290.9L115.1 293.9L118.9 298.4L120.4 302.9L123.4 307.4L127.1 310.4L128.6 312.3L126.4 313.4L122.6 311.1L119.6 306.6L118.1 303.6L115.1 302.1L113.6 299.9L116.6 299.1L114.4 295.4L110.6 292.4ZM68.0 387.5L71.3 388.8L75.0 391.3L78.0 390.5L77.0 393.8L74.5 396.3L75.0 402.5L73.0 403.8L72.0 398.8L71.3 393.8L68.8 391.3ZM74.5 457.5L76.3 461.3L78.8 463.8L83.0 463.3L83.8 465.0L81.3 467.5L77.0 466.3L74.5 463.8L73.8 460.0ZM87.2 514.3L93.3 513.4L103.9 514.3L100.4 516.1L96.9 516.4L95.1 518.7L92.5 516.9L88.1 515.7ZM99.8 508.3L107.4 505.8L109.1 505.0L114.2 507.3L120.0 507.5L122.5 505.5L124.5 501.5L125.2 498.0L126.2 498.2L126.8 502.0L128.0 505.5L129.5 509.0L131.5 510.5L133.0 512.5L130.0 514.0L126.0 513.5L123.0 512.0L120.0 510.5L116.0 509.6L112.0 509.0L107.4 507.6L103.0 509.0L99.8 509.8ZM133.0 511.5L138.0 508.0L143.0 504.5L147.0 501.8L147.5 502.8L143.5 505.8L138.5 509.3L133.5 512.8Z"/>
<path fill="none" stroke="#444" stroke-width=".7" stroke-linejoin="round" d="M141.5 206.2L144.5 205.0L149.5 205.0L151.5 207.5L152.0 209.5L157.0 214.0L162.0 217.5L166.5 220.5L172.0 221.5L177.0 224.0L181.0 228.0L185.0 232.0L188.0 235.0L186.5 240.0L187.5 245.0L188.5 248.0L187.0 251.0L191.5 251.5L192.0 254.5L190.0 258.0L192.0 262.0L195.0 266.0L197.0 270.0L197.0 275.0L195.8 279.0L194.7 283.1L195.8 288.2L199.5 291.1L201.6 295.5L203.8 300.0L198.8 303.8L195.0 301.3L191.3 305.0L187.5 302.5L185.0 306.3L182.5 302.5L181.3 311.3L177.5 312.5L176.3 317.5L172.5 318.8L173.8 323.8L171.3 325.0L170.0 330.0L166.3 336.3L170.0 340.0L173.8 343.8L173.8 350.0L170.0 355.0L165.0 360.0L162.5 367.5L160.0 372.5L155.0 373.8L152.5 378.8L147.5 378.8L146.3 384.0L141.3 386.3L140.0 390.5L135.0 392.0L133.0 397.0L129.5 397.5L127.5 403.0L124.5 396.3L126.3 407.5L120.0 412.5L117.5 417.5L121.3 420.0L120.0 425.0L121.3 430.0L117.5 438.8L120.0 441.3L117.5 447.5L116.3 455.0L117.5 465.0L120.0 471.3L124.9 472.3L130.1 473.1L137.2 474.9L138.9 479.3L143.3 482.8L145.0 488.0L147.7 492.4L148.5 497.7L145.9 499.4L147.7 503.8L144.2 508.2L145.0 512.6L140.7 514.3L138.9 519.6L134.5 521.3L131.9 524.8L130.1 522.2L127.5 519.6L127.5 526.6L123.1 530.1L117.9 532.7L112.6 533.6L103.9 534.5L109.1 536.2L113.5 537.1L109.1 539.7L114.4 542.4L112.6 545.9L113.6 549.0L109.1 552.0L111.4 556.5L109.1 561.0L112.1 567.0L110.6 573.0L108.4 577.5L109.1 583.6L106.9 589.6L105.4 595.6L103.9 601.6L101.6 607.6L99.4 613.6L94.1 614.3L89.6 612.8L83.6 613.3L77.6 613.6L76.8 616.6L73.1 615.1L70.8 619.6L67.8 624.1L67.1 628.6L70.1 631.6L68.6 635.4L64.1 636.1L59.6 634.3L53.6 636.9L47.5 637.3L42.3 635.4L44.5 630.1L45.3 625.6L43.0 619.6L40.0 613.6L37.0 608.3L40.8 607.6L41.5 603.8L44.5 601.6L42.3 597.1L39.3 592.6L36.3 586.6L34.0 580.6L31.0 574.5L28.0 572.3L28.8 567.8L26.5 562.5L25.8 556.5L22.0 552.8L23.5 549.0L20.5 544.5L18.8 540.0L18.0 537.6L19.9 532.6L18.6 527.6L17.4 521.4L19.3 518.2L22.4 518.8L25.5 521.4L29.3 513.8L28.0 502.6L31.1 501.3L30.5 497.6L31.8 494.1L36.2 493.8L39.9 490.1L41.8 485.1L43.7 476.3L43.0 472.5L39.9 464.4L38.7 458.8L46.2 457.5L48.0 447.5L45.5 442.5L39.9 440.0L40.0 435.0L42.3 430.0L40.0 418.1L39.3 406.1L40.8 395.6L38.5 388.1L40.8 379.1L44.5 373.1L49.8 366.3L56.5 363.3L67.1 364.8L69.3 361.1L70.1 350.6L63.3 347.5L67.8 340.0L73.1 332.5L75.3 322.0L76.8 310.0L76.1 299.1L87.3 293.9L88.1 288.6L91.8 281.9L95.6 275.1L100.1 270.6L100.1 266.1L97.1 260.8L96.3 257.1L100.1 255.6L101.6 251.1L104.6 242.8L110.6 236.8L118.1 240.6L120.4 230.0L119.3 223.3L122.6 221.8L125.6 224.0L133.1 226.3L139.1 228.5L142.1 227.8L144.4 223.3L141.4 221.8L142.9 218.0L144.4 211.3ZM118.1 574.5L119.9 575.3L118.1 583.6L115.1 592.6L111.4 603.1L109.1 610.3L107.6 609.8L108.4 601.6L111.4 591.1L115.1 580.6ZM137.2 568.6L140.7 563.4L144.2 559.0L148.5 556.4L152.9 554.6L156.4 552.9L157.3 554.6L153.8 557.3L152.9 561.6L151.2 566.9L148.5 572.1L145.9 577.4L142.4 582.7L140.7 587.0L138.6 586.2L138.9 580.9L137.2 575.6Z"/>
</g>
<g transform="translate(603 0)">
<g clip-path="url(#se)">
<rect x="10" y="200" width="200" height="445" fill="#f5f5f7"/>
<path fill="#c7eae5" d="M145.5 212.8 a3.0 1.8 0 1 0 6.0 0a3.0 1.8 0 1 0 -6.0 0Z"/>
<path fill="#c7eae5" d="M122.0 217.0C122.9 218.3 125.3 222.4 127.5 225.0C129.7 227.6 132.7 229.2 135.0 232.5C137.3 235.8 140.1 240.8 141.3 245.0C142.6 249.2 141.7 253.8 142.5 257.5C143.3 261.2 145.1 264.2 146.3 267.5C147.6 270.8 149.6 274.2 150.0 277.5C150.4 280.8 149.8 284.2 148.8 287.5C147.8 290.8 145.5 294.2 143.8 297.5C142.1 300.8 140.5 304.2 138.8 307.5C137.1 310.8 135.5 314.2 133.8 317.5C132.1 320.8 129.9 324.2 128.8 327.5C127.8 330.8 126.9 334.2 127.5 337.5C128.1 340.8 130.4 344.6 132.5 347.5C134.6 350.4 137.7 352.7 140.0 355.0C142.3 357.3 145.5 358.8 146.3 361.3C147.1 363.8 146.2 367.3 145.0 370.0C143.8 372.7 140.9 375.0 138.8 377.5C136.7 380.0 134.8 382.9 132.5 385.0C130.2 387.1 127.9 387.7 125.0 390.0C122.1 392.3 118.3 396.3 115.0 398.8C111.7 401.3 107.5 402.3 105.0 405.0C102.5 407.7 101.5 411.7 100.0 415.0C98.5 418.3 97.3 421.7 96.3 425.0C95.3 428.3 94.4 431.2 93.8 435.0C93.2 438.8 92.7 443.3 92.5 447.5C92.3 451.7 92.5 455.8 92.5 460.0C92.5 464.2 92.9 468.8 92.5 472.5C92.1 476.2 91.0 479.4 90.0 482.5C89.0 485.6 88.0 488.8 86.3 491.3C84.6 493.8 82.5 496.1 80.0 497.5C77.5 498.9 74.2 500.0 71.3 500.0C68.4 500.0 65.6 498.8 62.5 497.5C59.4 496.2 55.6 493.9 52.5 492.5C49.4 491.1 47.5 489.7 43.8 488.8C40.0 487.9 32.3 487.3 30.0 487.0L10.0 487.0L10.0 217.0Z"/>
<path fill="#f5f5f7" d="M70.0 330.0C70.4 330.6 71.6 331.7 72.5 333.8C73.4 335.9 75.3 339.4 75.5 342.5C75.7 345.6 75.0 350.6 73.8 352.5C72.5 354.4 69.0 353.8 68.0 354.0L55.0 354.0L55.0 330.0Z"/>
<path fill="#f5f5f7" d="M55.0 364.0C55.8 364.2 57.1 364.5 60.0 365.0C62.9 365.5 69.0 365.8 72.5 367.0C76.0 368.2 79.6 370.1 81.3 372.5C83.0 374.9 83.3 378.6 82.5 381.3C81.7 384.0 79.6 387.3 76.3 388.8C73.0 390.3 66.9 390.1 62.5 390.5C58.1 390.9 53.8 390.8 50.0 391.3C46.2 391.9 43.3 393.4 40.0 393.8C36.7 394.2 31.7 394.0 30.0 394.0L30.0 364.0Z"/>
<path fill="#f5f5f7" d="M38.0 433.0 a7.0 7.5 0 1 0 14.0 0a7.0 7.5 0 1 0 -14.0 0Z"/>
<path fill="#5ab4ac" d="M115.2 365.8 a6.8 8.0 0 1 0 13.6 0a6.8 8.0 0 1 0 -13.6 0Z"/>
<path fill="#5ab4ac" d="M80.0 430.0C81.0 430.4 83.4 431.9 83.8 433.8C84.2 435.7 83.8 439.4 82.5 441.3C81.2 443.2 78.4 443.6 76.3 445.0C74.2 446.4 71.5 447.9 70.0 450.0C68.5 452.1 67.5 454.8 67.5 457.5C67.5 460.2 68.5 463.8 70.0 466.3C71.5 468.8 74.4 470.2 76.3 472.5C78.2 474.8 80.7 477.5 81.3 480.0C81.9 482.5 81.5 485.6 80.0 487.5C78.5 489.4 75.0 491.1 72.5 491.3C70.0 491.5 67.5 490.5 65.0 488.8C62.5 487.1 60.0 484.0 57.5 481.3C55.0 478.6 52.5 475.4 50.0 472.5C47.5 469.6 44.5 466.1 42.5 463.8C40.5 461.5 37.2 460.1 38.0 458.8C38.8 457.6 45.9 457.6 47.5 456.3C49.1 455.1 46.5 453.0 47.5 451.3C48.5 449.6 51.3 448.0 53.8 446.3C56.3 444.6 59.6 443.2 62.5 441.3C65.4 439.4 68.8 436.7 71.3 435.0C73.8 433.3 76.0 432.1 77.5 431.3C79.0 430.5 79.0 429.6 80.0 430.0Z"/>
<path fill="#f6e8c3" d="M195.0 251.0C194.0 251.1 191.3 251.1 188.8 251.3C186.3 251.6 182.9 251.5 180.0 252.5C177.1 253.5 173.6 255.2 171.3 257.5C169.0 259.8 167.4 263.0 166.3 266.3C165.2 269.6 166.1 274.0 165.0 277.5C163.9 281.0 161.9 284.4 160.0 287.5C158.1 290.6 155.2 293.4 153.8 296.3C152.4 299.2 151.3 301.9 151.3 305.0C151.3 308.1 152.8 312.1 153.8 315.0C154.8 317.9 157.7 320.0 157.5 322.5C157.3 325.0 153.8 327.3 152.5 330.0C151.2 332.7 149.8 335.9 150.0 338.8C150.2 341.7 152.3 345.0 153.8 347.5C155.3 350.0 157.6 351.5 158.8 353.8C160.1 356.1 161.3 358.6 161.3 361.3C161.3 364.0 160.3 367.1 158.8 370.0C157.3 372.9 154.3 376.3 152.5 378.8C150.7 381.3 148.8 384.0 148.0 385.0L170.0 385.0L210.0 330.0L210.0 251.0Z"/>
<path fill="#d8b365" d="M205.0 297.0C204.0 296.9 200.5 297.1 198.8 296.3C197.1 295.6 196.7 294.8 195.0 292.5C193.3 290.2 190.9 285.6 188.8 282.5C186.7 279.4 184.4 275.2 182.5 273.8C180.6 272.4 178.9 272.8 177.5 273.8C176.1 274.8 175.1 277.7 173.8 280.0C172.6 282.3 171.7 285.2 170.0 287.5C168.3 289.8 165.6 291.5 163.8 293.8C162.1 296.1 160.1 298.6 159.5 301.3C158.9 304.0 158.9 307.5 160.0 310.0C161.1 312.5 164.6 314.0 166.3 316.3C168.0 318.6 170.2 321.7 170.0 323.8C169.8 325.9 166.7 326.9 165.0 328.8C163.3 330.7 160.8 332.7 160.0 335.0C159.2 337.3 159.2 340.0 160.0 342.5C160.8 345.0 163.1 348.1 165.0 350.0C166.9 351.9 169.1 353.0 171.3 353.8C173.5 354.6 176.9 354.8 178.0 355.0L210.0 355.0L210.0 297.0Z"/>
<path fill="#8c510a" d="M172.5 305.0C173.3 303.8 178.3 303.4 180.0 303.8C181.7 304.2 182.5 306.1 182.5 307.5C182.5 308.9 181.2 311.9 180.0 312.5C178.8 313.1 176.2 312.6 175.0 311.3C173.8 310.1 171.7 306.2 172.5 305.0Z"/>
<path fill="#f6e8c3" d="M128.0 408.0C126.7 408.3 122.2 408.8 120.0 410.0C117.8 411.2 116.7 412.5 115.0 415.0C113.3 417.5 111.5 421.7 110.0 425.0C108.5 428.3 107.1 431.2 106.3 435.0C105.5 438.8 105.2 443.3 105.0 447.5C104.8 451.7 105.2 455.8 105.0 460.0C104.8 464.2 104.6 468.8 103.8 472.5C103.0 476.2 101.2 479.2 100.0 482.5C98.8 485.8 97.5 489.2 96.3 492.5C95.0 495.8 93.8 499.2 92.5 502.5C91.2 505.8 90.5 510.0 88.8 512.5C87.1 515.0 85.0 516.9 82.5 517.5C80.0 518.1 76.5 517.3 73.8 516.3C71.1 515.3 69.0 513.0 66.3 511.3C63.6 509.6 60.6 507.6 57.5 506.3C54.4 505.1 50.8 504.4 47.5 503.8C44.2 503.2 40.4 502.3 37.5 502.5C34.6 502.7 32.9 504.2 30.0 505.0C27.1 505.8 21.7 506.7 20.0 507.0L10.0 507.0L10.0 645.0L210.0 645.0L210.0 408.0Z"/>
<path fill="#d8b365" d="M125.0 436.0C124.0 436.2 120.7 436.4 118.8 437.5C116.9 438.6 114.8 440.0 113.8 442.5C112.8 445.0 112.7 449.2 112.5 452.5C112.3 455.8 112.9 459.2 112.5 462.5C112.1 465.8 111.0 469.2 110.0 472.5C109.0 475.8 107.5 479.2 106.3 482.5C105.0 485.8 103.5 489.2 102.5 492.5C101.5 495.8 100.6 499.2 100.0 502.5C99.4 505.8 99.6 509.6 98.8 512.5C98.0 515.4 96.9 517.5 95.0 520.0C93.1 522.5 90.0 526.2 87.5 527.5C85.0 528.8 82.9 528.8 80.0 527.5C77.1 526.2 73.3 522.5 70.0 520.0C66.7 517.5 63.3 514.2 60.0 512.5C56.7 510.8 53.3 510.0 50.0 510.0C46.7 510.0 43.3 511.4 40.0 512.5C36.7 513.5 32.5 515.2 30.0 516.3C27.5 517.3 27.5 518.2 25.0 518.8C22.5 519.4 16.7 519.8 15.0 520.0L10.0 520.0L10.0 645.0L210.0 645.0L210.0 436.0Z"/>
<path fill="#8c510a" d="M10.0 537.0C11.5 536.9 15.9 537.0 18.8 536.3C21.7 535.5 24.8 534.0 27.5 532.5C30.2 531.0 32.5 529.4 35.0 527.5C37.5 525.6 40.0 522.8 42.5 521.3C45.0 519.8 47.4 519.2 50.0 518.8C52.6 518.4 55.3 518.4 58.0 519.0C60.7 519.6 63.9 520.7 66.3 522.5C68.7 524.3 70.0 527.7 72.5 530.0C75.0 532.3 78.4 535.7 81.3 536.3C84.2 536.9 86.9 534.8 90.0 533.8C93.1 532.8 96.7 531.5 100.0 530.0C103.3 528.5 106.9 527.1 110.0 525.0C113.1 522.9 116.9 520.4 118.8 517.5C120.7 514.6 121.5 510.4 121.3 507.5C121.1 504.6 118.3 502.9 117.5 500.0C116.7 497.1 115.9 493.3 116.3 490.0C116.7 486.7 119.2 483.1 120.0 480.0C120.8 476.9 120.5 473.3 121.3 471.3C122.1 469.3 124.4 468.6 125.0 468.0L160.0 468.0L160.0 545.0L125.0 545.0L125.0 645.0L10.0 645.0Z"/>
<path fill="#d8b365" d="M20.0 552.5C21.8 549.0 28.9 548.8 32.5 548.8C36.0 548.8 38.8 550.6 41.3 552.5C43.8 554.4 45.4 557.3 47.5 560.0C49.6 562.7 51.5 566.1 53.8 568.8C56.1 571.5 58.4 574.6 61.3 576.3C64.2 578.0 68.0 578.2 71.3 578.8C74.6 579.4 79.4 579.0 81.3 580.0C83.2 581.0 83.1 583.5 82.5 585.0C81.9 586.5 79.6 587.8 77.5 588.8C75.4 589.8 71.9 589.8 70.0 591.3C68.1 592.8 67.3 595.2 66.3 597.5C65.3 599.8 65.7 603.1 63.8 605.0C61.9 606.9 57.9 608.4 55.0 608.8C52.1 609.2 49.1 608.5 46.3 607.5C43.5 606.5 40.7 605.4 38.0 602.5C35.3 599.6 32.7 595.4 30.0 590.0C27.3 584.6 23.7 576.2 22.0 570.0C20.3 563.8 18.2 556.0 20.0 552.5Z"/>
<path fill="#f6e8c3" d="M26.0 566.3C27.2 564.6 32.2 565.5 35.0 566.3C37.8 567.1 40.2 569.2 42.5 571.3C44.8 573.4 46.9 576.5 48.8 578.8C50.7 581.1 52.8 582.9 53.8 585.0C54.8 587.1 55.4 589.2 55.0 591.3C54.6 593.4 53.0 596.2 51.3 597.5C49.6 598.8 47.1 599.6 45.0 598.8C42.9 598.0 40.7 594.8 38.8 592.5C36.9 590.2 35.6 587.7 33.8 585.0C32.0 582.3 29.3 579.4 28.0 576.3C26.7 573.2 24.8 568.0 26.0 566.3Z"/>
<path fill="#f6e8c3" d="M130.0 545.0L160.0 545.0L160.0 590.0L130.0 590.0Z"/>
<path fill="none" stroke="#7d7d7d" stroke-width=".6" d="M87.5 293.8L97.5 297.5L110.0 305.0L122.5 313.8L135.0 322.5L142.5 328.8L147.5 321.3L160.0 323.8L170.0 327.5M72.5 332.5L82.5 342.5L92.5 352.5L102.5 362.5L110.0 367.5L120.0 368.8L130.0 365.0L135.0 370.0L142.5 375.0L146.3 380.0M106.3 365.0L105.0 375.0L95.0 377.5L96.3 380.0L105.0 390.0L111.3 398.8L103.8 407.5L92.5 410.0L80.0 412.5L81.3 420.0L90.0 421.3L100.0 421.3L120.0 423.8M40.0 421.3L50.0 425.0L56.3 430.0L60.0 440.0L75.0 441.3L76.3 433.8L81.3 431.3L88.8 421.3M40.0 458.8L46.3 460.0L52.5 472.5L60.0 482.5L71.3 491.3L72.5 502.5L71.3 515.0L70.0 522.5M76.3 442.5L85.0 445.0L91.3 452.5L97.5 460.0L103.8 467.5L101.3 475.0L106.3 482.5L110.0 485.0M103.8 467.5L112.5 471.3L120.0 471.3M72.5 491.3L80.0 488.8L87.5 493.8L95.0 487.5L101.3 487.5L106.3 482.5M87.5 493.8L91.3 502.5L93.8 512.5L92.5 520.0L90.0 527.5L80.0 530.0M110.0 485.0L112.5 497.5L115.0 505.0L120.0 512.5L125.0 517.5L127.5 525.0M30.0 515.0L37.5 516.3L45.0 520.0M70.0 553.8L61.3 552.5L60.0 562.5L55.0 572.5L48.8 580.0L45.0 576.3L36.3 575.0L33.8 567.5L27.5 567.5M48.8 580.0L51.3 583.8L58.8 585.0L53.8 591.3L53.8 602.5L45.0 605.0L40.0 602.5M53.8 602.5L62.5 601.3L72.5 602.5L71.3 610.0M72.5 602.5L82.5 603.8L90.0 597.5L98.8 600.0L102.5 605.0M58.8 585.0L65.0 582.5L70.0 588.8L73.8 581.3L82.5 578.8L90.0 578.8L96.3 586.3L90.0 590.0L90.0 597.5M77.5 551.3L82.5 550.0L83.8 557.5L90.0 562.5L92.5 570.0L90.0 578.8M90.0 562.5L98.8 558.8L101.3 552.5L108.8 551.3L112.5 555.0M80.0 530.0L87.5 527.5L95.0 523.8L102.5 530.0L108.8 533.8M95.0 523.8L100.0 517.5L108.8 515.0L117.5 515.0L120.0 522.5L127.5 527.5"/>
</g>
<path fill="#fff" stroke="#444" stroke-width=".6" d="M51.3 513.4L53.0 512.6L55.7 514.3L59.2 511.2L63.9 512.2L66.2 516.9L65.0 521.0L67.1 522.2L63.9 527.5L61.8 530.1L58.7 529.7L56.2 533.2L52.7 537.1L50.4 535.0L47.8 538.0L43.4 539.7L38.2 542.0L36.9 540.3L39.9 536.7L40.8 531.8L42.9 527.5L44.3 524.0L46.9 523.1L49.2 526.2L48.7 529.2L51.3 527.5L52.2 520.5L50.9 516.1ZM78.5 530.1L80.7 531.0L80.2 537.1L77.6 542.4L74.9 549.4L71.4 556.4L69.2 561.3L67.1 559.0L68.8 552.9L71.4 545.9L74.1 538.9L76.7 532.7ZM125.6 224.0L133.1 225.5L140.6 229.3L143.6 231.5L142.1 232.3L136.1 230.8L130.1 228.5L126.4 225.5ZM107.6 246.6L110.6 246.9L116.6 251.8L124.1 257.1L131.6 260.1L137.6 263.8L142.9 268.3L142.1 269.4L136.1 266.1L130.1 261.6L122.6 257.8L115.1 252.6L109.1 250.3ZM108.3 290.1L111.3 290.9L115.1 293.9L118.9 298.4L120.4 302.9L123.4 307.4L127.1 310.4L128.6 312.3L126.4 313.4L122.6 311.1L119.6 306.6L118.1 303.6L115.1 302.1L113.6 299.9L116.6 299.1L114.4 295.4L110.6 292.4ZM68.0 387.5L71.3 388.8L75.0 391.3L78.0 390.5L77.0 393.8L74.5 396.3L75.0 402.5L73.0 403.8L72.0 398.8L71.3 393.8L68.8 391.3ZM74.5 457.5L76.3 461.3L78.8 463.8L83.0 463.3L83.8 465.0L81.3 467.5L77.0 466.3L74.5 463.8L73.8 460.0ZM87.2 514.3L93.3 513.4L103.9 514.3L100.4 516.1L96.9 516.4L95.1 518.7L92.5 516.9L88.1 515.7ZM99.8 508.3L107.4 505.8L109.1 505.0L114.2 507.3L120.0 507.5L122.5 505.5L124.5 501.5L125.2 498.0L126.2 498.2L126.8 502.0L128.0 505.5L129.5 509.0L131.5 510.5L133.0 512.5L130.0 514.0L126.0 513.5L123.0 512.0L120.0 510.5L116.0 509.6L112.0 509.0L107.4 507.6L103.0 509.0L99.8 509.8ZM133.0 511.5L138.0 508.0L143.0 504.5L147.0 501.8L147.5 502.8L143.5 505.8L138.5 509.3L133.5 512.8Z"/>
<path fill="none" stroke="#444" stroke-width=".7" stroke-linejoin="round" d="M141.5 206.2L144.5 205.0L149.5 205.0L151.5 207.5L152.0 209.5L157.0 214.0L162.0 217.5L166.5 220.5L172.0 221.5L177.0 224.0L181.0 228.0L185.0 232.0L188.0 235.0L186.5 240.0L187.5 245.0L188.5 248.0L187.0 251.0L191.5 251.5L192.0 254.5L190.0 258.0L192.0 262.0L195.0 266.0L197.0 270.0L197.0 275.0L195.8 279.0L194.7 283.1L195.8 288.2L199.5 291.1L201.6 295.5L203.8 300.0L198.8 303.8L195.0 301.3L191.3 305.0L187.5 302.5L185.0 306.3L182.5 302.5L181.3 311.3L177.5 312.5L176.3 317.5L172.5 318.8L173.8 323.8L171.3 325.0L170.0 330.0L166.3 336.3L170.0 340.0L173.8 343.8L173.8 350.0L170.0 355.0L165.0 360.0L162.5 367.5L160.0 372.5L155.0 373.8L152.5 378.8L147.5 378.8L146.3 384.0L141.3 386.3L140.0 390.5L135.0 392.0L133.0 397.0L129.5 397.5L127.5 403.0L124.5 396.3L126.3 407.5L120.0 412.5L117.5 417.5L121.3 420.0L120.0 425.0L121.3 430.0L117.5 438.8L120.0 441.3L117.5 447.5L116.3 455.0L117.5 465.0L120.0 471.3L124.9 472.3L130.1 473.1L137.2 474.9L138.9 479.3L143.3 482.8L145.0 488.0L147.7 492.4L148.5 497.7L145.9 499.4L147.7 503.8L144.2 508.2L145.0 512.6L140.7 514.3L138.9 519.6L134.5 521.3L131.9 524.8L130.1 522.2L127.5 519.6L127.5 526.6L123.1 530.1L117.9 532.7L112.6 533.6L103.9 534.5L109.1 536.2L113.5 537.1L109.1 539.7L114.4 542.4L112.6 545.9L113.6 549.0L109.1 552.0L111.4 556.5L109.1 561.0L112.1 567.0L110.6 573.0L108.4 577.5L109.1 583.6L106.9 589.6L105.4 595.6L103.9 601.6L101.6 607.6L99.4 613.6L94.1 614.3L89.6 612.8L83.6 613.3L77.6 613.6L76.8 616.6L73.1 615.1L70.8 619.6L67.8 624.1L67.1 628.6L70.1 631.6L68.6 635.4L64.1 636.1L59.6 634.3L53.6 636.9L47.5 637.3L42.3 635.4L44.5 630.1L45.3 625.6L43.0 619.6L40.0 613.6L37.0 608.3L40.8 607.6L41.5 603.8L44.5 601.6L42.3 597.1L39.3 592.6L36.3 586.6L34.0 580.6L31.0 574.5L28.0 572.3L28.8 567.8L26.5 562.5L25.8 556.5L22.0 552.8L23.5 549.0L20.5 544.5L18.8 540.0L18.0 537.6L19.9 532.6L18.6 527.6L17.4 521.4L19.3 518.2L22.4 518.8L25.5 521.4L29.3 513.8L28.0 502.6L31.1 501.3L30.5 497.6L31.8 494.1L36.2 493.8L39.9 490.1L41.8 485.1L43.7 476.3L43.0 472.5L39.9 464.4L38.7 458.8L46.2 457.5L48.0 447.5L45.5 442.5L39.9 440.0L40.0 435.0L42.3 430.0L40.0 418.1L39.3 406.1L40.8 395.6L38.5 388.1L40.8 379.1L44.5 373.1L49.8 366.3L56.5 363.3L67.1 364.8L69.3 361.1L70.1 350.6L63.3 347.5L67.8 340.0L73.1 332.5L75.3 322.0L76.8 310.0L76.1 299.1L87.3 293.9L88.1 288.6L91.8 281.9L95.6 275.1L100.1 270.6L100.1 266.1L97.1 260.8L96.3 257.1L100.1 255.6L101.6 251.1L104.6 242.8L110.6 236.8L118.1 240.6L120.4 230.0L119.3 223.3L122.6 221.8L125.6 224.0L133.1 226.3L139.1 228.5L142.1 227.8L144.4 223.3L141.4 221.8L142.9 218.0L144.4 211.3ZM118.1 574.5L119.9 575.3L118.1 583.6L115.1 592.6L111.4 603.1L109.1 610.3L107.6 609.8L108.4 601.6L111.4 591.1L115.1 580.6ZM137.2 568.6L140.7 563.4L144.2 559.0L148.5 556.4L152.9 554.6L156.4 552.9L157.3 554.6L153.8 557.3L152.9 561.6L151.2 566.9L148.5 572.1L145.9 577.4L142.4 582.7L140.7 587.0L138.6 586.2L138.9 580.9L137.2 575.6Z"/>
</g>
</svg>
<!--/MAPS-->
<div class="lg" style="top:656.5px;background:#01665e"></div><div class="lt" style="top:655.5px">Ovanligt hög</div>
<div class="lg" style="top:674.6px;background:#5ab4ac"></div><div class="lt" style="top:673.6px">Hög</div>
<div class="lg" style="top:692.7px;background:#c7eae5"></div><div class="lt" style="top:691.7px">Ganska hög</div>
<div class="lg" style="top:710.7px;background:#f5f5f5;border:1px solid #ddd"></div><div class="lt" style="top:709.7px">Nära medel</div>
<div class="lg" style="top:728.8px;background:#f6e8c3"></div><div class="lt" style="top:727.8px">Ganska låg</div>
<div class="lg" style="top:746.9px;background:#d8b365"></div><div class="lt" style="top:745.9px">Låg</div>
<div class="lg" style="top:765.0px;background:#8c510a"></div><div class="lt" style="top:764.0px">Ovanligt låg</div>
</body></html>
